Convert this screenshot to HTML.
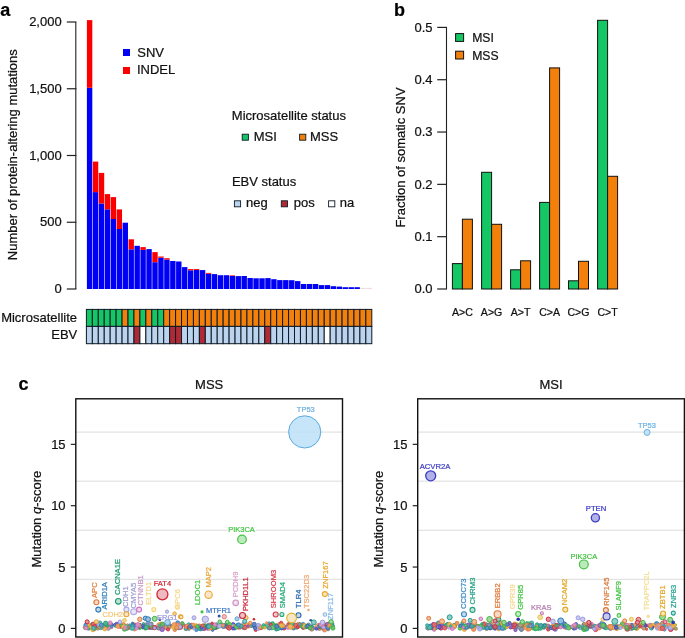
<!DOCTYPE html>
<html><head><meta charset="utf-8"><style>
html,body{margin:0;padding:0;background:#fff;}
body{width:685px;height:638px;overflow:hidden;}
svg{display:block;filter:blur(0.3px);font-family:"Liberation Sans", sans-serif;}
</style></head><body>
<svg width="685" height="638" viewBox="0 0 685 638">
<rect width="685" height="638" fill="#fff"/>
<text stroke="#000" stroke-width="0.22" x="0.3" y="15.6" font-size="18" font-weight="bold" fill="#000">a</text>
<line x1="75.8" y1="22.00" x2="75.8" y2="289.00" stroke="#222" stroke-width="1.1"/>
<line x1="66.8" y1="289.00" x2="76.35" y2="289.00" stroke="#222" stroke-width="1.2"/>
<text stroke="#111111" stroke-width="0.22" x="61.7" y="293.10" font-size="13" text-anchor="end" fill="#111111">0</text>
<line x1="66.8" y1="222.25" x2="76.35" y2="222.25" stroke="#222" stroke-width="1.2"/>
<text stroke="#111111" stroke-width="0.22" x="61.7" y="226.35" font-size="13" text-anchor="end" fill="#111111">500</text>
<line x1="66.8" y1="155.50" x2="76.35" y2="155.50" stroke="#222" stroke-width="1.2"/>
<text stroke="#111111" stroke-width="0.22" x="61.7" y="159.60" font-size="13" text-anchor="end" fill="#111111">1,000</text>
<line x1="66.8" y1="88.75" x2="76.35" y2="88.75" stroke="#222" stroke-width="1.2"/>
<text stroke="#111111" stroke-width="0.22" x="61.7" y="92.85" font-size="13" text-anchor="end" fill="#111111">1,500</text>
<line x1="66.8" y1="22.00" x2="76.35" y2="22.00" stroke="#222" stroke-width="1.2"/>
<text stroke="#111111" stroke-width="0.22" x="61.7" y="26.10" font-size="13" text-anchor="end" fill="#111111">2,000</text>
<text stroke="#111111" stroke-width="0.22" transform="translate(16.6,154.7) rotate(-90)" font-size="13" text-anchor="middle" fill="#111111">Number of protein-altering mutations</text>
<rect x="86.90" y="87.80" width="5.40" height="201.20" fill="#0000f5"/>
<rect x="86.90" y="20.10" width="5.40" height="67.70" fill="#fa0000"/>
<rect x="92.85" y="192.10" width="5.40" height="96.90" fill="#0000f5"/>
<rect x="92.85" y="161.60" width="5.40" height="30.50" fill="#fa0000"/>
<rect x="98.79" y="203.50" width="5.40" height="85.50" fill="#0000f5"/>
<rect x="98.79" y="172.90" width="5.40" height="30.60" fill="#fa0000"/>
<rect x="104.74" y="209.30" width="5.40" height="79.70" fill="#0000f5"/>
<rect x="104.74" y="194.10" width="5.40" height="15.20" fill="#fa0000"/>
<rect x="110.68" y="219.00" width="5.40" height="70.00" fill="#0000f5"/>
<rect x="110.68" y="197.10" width="5.40" height="21.90" fill="#fa0000"/>
<rect x="116.63" y="229.00" width="5.40" height="60.00" fill="#0000f5"/>
<rect x="116.63" y="209.40" width="5.40" height="19.60" fill="#fa0000"/>
<rect x="122.58" y="222.70" width="5.40" height="66.30" fill="#0000f5"/>
<rect x="128.52" y="249.30" width="5.40" height="39.70" fill="#0000f5"/>
<rect x="128.52" y="239.30" width="5.40" height="10.00" fill="#fa0000"/>
<rect x="134.47" y="245.80" width="5.40" height="43.20" fill="#0000f5"/>
<rect x="140.41" y="249.90" width="5.40" height="39.10" fill="#0000f5"/>
<rect x="140.41" y="247.10" width="5.40" height="2.80" fill="#fa0000"/>
<rect x="146.36" y="249.10" width="5.40" height="39.90" fill="#0000f5"/>
<rect x="152.30" y="262.20" width="5.40" height="26.80" fill="#0000f5"/>
<rect x="152.30" y="252.10" width="5.40" height="10.10" fill="#fa0000"/>
<rect x="158.25" y="257.70" width="5.40" height="31.30" fill="#0000f5"/>
<rect x="158.25" y="256.50" width="5.40" height="1.20" fill="#fa0000"/>
<rect x="164.20" y="259.60" width="5.40" height="29.40" fill="#0000f5"/>
<rect x="164.20" y="258.20" width="5.40" height="1.40" fill="#fa0000"/>
<rect x="170.14" y="261.00" width="5.40" height="28.00" fill="#0000f5"/>
<rect x="176.09" y="261.50" width="5.40" height="27.50" fill="#0000f5"/>
<rect x="182.03" y="267.10" width="5.40" height="21.90" fill="#0000f5"/>
<rect x="187.98" y="270.30" width="5.40" height="18.70" fill="#0000f5"/>
<rect x="187.98" y="269.10" width="5.40" height="1.20" fill="#fa0000"/>
<rect x="193.93" y="270.00" width="5.40" height="19.00" fill="#0000f5"/>
<rect x="193.93" y="269.10" width="5.40" height="0.90" fill="#fa0000"/>
<rect x="199.87" y="270.10" width="5.40" height="18.90" fill="#0000f5"/>
<rect x="205.82" y="273.80" width="5.40" height="15.20" fill="#0000f5"/>
<rect x="205.82" y="272.90" width="5.40" height="0.90" fill="#fa0000"/>
<rect x="211.76" y="274.10" width="5.40" height="14.90" fill="#0000f5"/>
<rect x="217.71" y="275.20" width="5.40" height="13.80" fill="#0000f5"/>
<rect x="223.65" y="275.20" width="5.40" height="13.80" fill="#0000f5"/>
<rect x="229.60" y="276.00" width="5.40" height="13.00" fill="#0000f5"/>
<rect x="229.60" y="275.40" width="5.40" height="0.60" fill="#fa0000"/>
<rect x="235.55" y="276.10" width="5.40" height="12.90" fill="#0000f5"/>
<rect x="241.49" y="276.00" width="5.40" height="13.00" fill="#0000f5"/>
<rect x="247.44" y="278.00" width="5.40" height="11.00" fill="#0000f5"/>
<rect x="253.38" y="278.30" width="5.40" height="10.70" fill="#0000f5"/>
<rect x="259.33" y="278.30" width="5.40" height="10.70" fill="#0000f5"/>
<rect x="265.27" y="278.10" width="5.40" height="10.90" fill="#0000f5"/>
<rect x="271.22" y="279.20" width="5.40" height="9.80" fill="#0000f5"/>
<rect x="277.17" y="280.10" width="5.40" height="8.90" fill="#0000f5"/>
<rect x="283.11" y="280.10" width="5.40" height="8.90" fill="#0000f5"/>
<rect x="289.06" y="280.20" width="5.40" height="8.80" fill="#0000f5"/>
<rect x="295.00" y="281.10" width="5.40" height="7.90" fill="#0000f5"/>
<rect x="300.95" y="284.00" width="5.40" height="5.00" fill="#0000f5"/>
<rect x="306.90" y="284.00" width="5.40" height="5.00" fill="#0000f5"/>
<rect x="312.84" y="284.00" width="5.40" height="5.00" fill="#0000f5"/>
<rect x="318.79" y="285.10" width="5.40" height="3.90" fill="#0000f5"/>
<rect x="324.73" y="285.10" width="5.40" height="3.90" fill="#0000f5"/>
<rect x="330.68" y="286.20" width="5.40" height="2.80" fill="#0000f5"/>
<rect x="336.62" y="286.60" width="5.40" height="2.40" fill="#0000f5"/>
<rect x="342.57" y="287.20" width="5.40" height="1.80" fill="#0000f5"/>
<rect x="348.52" y="287.20" width="5.40" height="1.80" fill="#0000f5"/>
<rect x="354.46" y="287.20" width="5.40" height="1.80" fill="#0000f5"/>
<rect x="360.41" y="287.9" width="5.40" height="0.8" fill="#e8c8d8"/>
<rect x="366.35" y="287.9" width="5.40" height="0.8" fill="#e8c8d8"/>
<rect x="123" y="49" width="7" height="7" fill="#0000f5"/>
<rect x="123" y="67" width="7" height="7" fill="#fa0000"/>
<text stroke="#111111" stroke-width="0.22" x="137.3" y="56.7" font-size="13" fill="#111111">SNV</text>
<text stroke="#111111" stroke-width="0.22" x="136.9" y="73.9" font-size="13" fill="#111111">INDEL</text>
<text stroke="#111111" stroke-width="0.22" x="231.8" y="119.9" font-size="13" fill="#111111">Microsatellite status</text>
<rect x="242.2" y="134.2" width="6.2" height="6" fill="#14c664" stroke="#0d1a26" stroke-width="0.9"/>
<text stroke="#111111" stroke-width="0.22" x="253.7" y="141.4" font-size="13" fill="#111111">MSI</text>
<rect x="299.6" y="134.2" width="6.2" height="6" fill="#f2800a" stroke="#0d1a26" stroke-width="0.9"/>
<text stroke="#111111" stroke-width="0.22" x="309.9" y="141.4" font-size="13" fill="#111111">MSS</text>
<text stroke="#111111" stroke-width="0.22" x="231.9" y="186.3" font-size="13" fill="#111111">EBV status</text>
<rect x="234.4" y="200.8" width="6.2" height="6" fill="#bcd3ee" stroke="#0d1a26" stroke-width="0.9"/>
<text stroke="#111111" stroke-width="0.22" x="246.0" y="206.9" font-size="13" fill="#111111">neg</text>
<rect x="281.3" y="200.8" width="6.2" height="6" fill="#b02a35" stroke="#0d1a26" stroke-width="0.9"/>
<text stroke="#111111" stroke-width="0.22" x="293.8" y="206.9" font-size="13" fill="#111111">pos</text>
<rect x="328.6" y="200.8" width="6.2" height="6" fill="#ffffff" stroke="#0d1a26" stroke-width="0.9"/>
<text stroke="#111111" stroke-width="0.22" x="339.8" y="206.9" font-size="13" fill="#111111">na</text>
<rect x="86.40" y="309.4" width="5.95" height="17" fill="#14c664" stroke="#0d1a26" stroke-width="1"/>
<rect x="86.40" y="326.4" width="5.95" height="17.3" fill="#bcd3ee" stroke="#0d1a26" stroke-width="1"/>
<rect x="92.35" y="309.4" width="5.95" height="17" fill="#14c664" stroke="#0d1a26" stroke-width="1"/>
<rect x="92.35" y="326.4" width="5.95" height="17.3" fill="#bcd3ee" stroke="#0d1a26" stroke-width="1"/>
<rect x="98.29" y="309.4" width="5.95" height="17" fill="#14c664" stroke="#0d1a26" stroke-width="1"/>
<rect x="98.29" y="326.4" width="5.95" height="17.3" fill="#bcd3ee" stroke="#0d1a26" stroke-width="1"/>
<rect x="104.24" y="309.4" width="5.95" height="17" fill="#14c664" stroke="#0d1a26" stroke-width="1"/>
<rect x="104.24" y="326.4" width="5.95" height="17.3" fill="#bcd3ee" stroke="#0d1a26" stroke-width="1"/>
<rect x="110.18" y="309.4" width="5.95" height="17" fill="#14c664" stroke="#0d1a26" stroke-width="1"/>
<rect x="110.18" y="326.4" width="5.95" height="17.3" fill="#bcd3ee" stroke="#0d1a26" stroke-width="1"/>
<rect x="116.13" y="309.4" width="5.95" height="17" fill="#14c664" stroke="#0d1a26" stroke-width="1"/>
<rect x="116.13" y="326.4" width="5.95" height="17.3" fill="#bcd3ee" stroke="#0d1a26" stroke-width="1"/>
<rect x="122.08" y="309.4" width="5.95" height="17" fill="#f2800a" stroke="#0d1a26" stroke-width="1"/>
<rect x="122.08" y="326.4" width="5.95" height="17.3" fill="#bcd3ee" stroke="#0d1a26" stroke-width="1"/>
<rect x="128.02" y="309.4" width="5.95" height="17" fill="#14c664" stroke="#0d1a26" stroke-width="1"/>
<rect x="128.02" y="326.4" width="5.95" height="17.3" fill="#bcd3ee" stroke="#0d1a26" stroke-width="1"/>
<rect x="133.97" y="309.4" width="5.95" height="17" fill="#f2800a" stroke="#0d1a26" stroke-width="1"/>
<rect x="133.97" y="326.4" width="5.95" height="17.3" fill="#b02a35" stroke="#0d1a26" stroke-width="1"/>
<rect x="139.91" y="309.4" width="5.95" height="17" fill="#14c664" stroke="#0d1a26" stroke-width="1"/>
<rect x="139.91" y="326.4" width="5.95" height="17.3" fill="#ffffff" stroke="#0d1a26" stroke-width="1"/>
<rect x="145.86" y="309.4" width="5.95" height="17" fill="#f2800a" stroke="#0d1a26" stroke-width="1"/>
<rect x="145.86" y="326.4" width="5.95" height="17.3" fill="#bcd3ee" stroke="#0d1a26" stroke-width="1"/>
<rect x="151.80" y="309.4" width="5.95" height="17" fill="#14c664" stroke="#0d1a26" stroke-width="1"/>
<rect x="151.80" y="326.4" width="5.95" height="17.3" fill="#bcd3ee" stroke="#0d1a26" stroke-width="1"/>
<rect x="157.75" y="309.4" width="5.95" height="17" fill="#14c664" stroke="#0d1a26" stroke-width="1"/>
<rect x="157.75" y="326.4" width="5.95" height="17.3" fill="#bcd3ee" stroke="#0d1a26" stroke-width="1"/>
<rect x="163.70" y="309.4" width="5.95" height="17" fill="#f2800a" stroke="#0d1a26" stroke-width="1"/>
<rect x="163.70" y="326.4" width="5.95" height="17.3" fill="#bcd3ee" stroke="#0d1a26" stroke-width="1"/>
<rect x="169.64" y="309.4" width="5.95" height="17" fill="#f2800a" stroke="#0d1a26" stroke-width="1"/>
<rect x="169.64" y="326.4" width="5.95" height="17.3" fill="#b02a35" stroke="#0d1a26" stroke-width="1"/>
<rect x="175.59" y="309.4" width="5.95" height="17" fill="#f2800a" stroke="#0d1a26" stroke-width="1"/>
<rect x="175.59" y="326.4" width="5.95" height="17.3" fill="#b02a35" stroke="#0d1a26" stroke-width="1"/>
<rect x="181.53" y="309.4" width="5.95" height="17" fill="#f2800a" stroke="#0d1a26" stroke-width="1"/>
<rect x="181.53" y="326.4" width="5.95" height="17.3" fill="#bcd3ee" stroke="#0d1a26" stroke-width="1"/>
<rect x="187.48" y="309.4" width="5.95" height="17" fill="#f2800a" stroke="#0d1a26" stroke-width="1"/>
<rect x="187.48" y="326.4" width="5.95" height="17.3" fill="#bcd3ee" stroke="#0d1a26" stroke-width="1"/>
<rect x="193.43" y="309.4" width="5.95" height="17" fill="#f2800a" stroke="#0d1a26" stroke-width="1"/>
<rect x="193.43" y="326.4" width="5.95" height="17.3" fill="#bcd3ee" stroke="#0d1a26" stroke-width="1"/>
<rect x="199.37" y="309.4" width="5.95" height="17" fill="#f2800a" stroke="#0d1a26" stroke-width="1"/>
<rect x="199.37" y="326.4" width="5.95" height="17.3" fill="#b02a35" stroke="#0d1a26" stroke-width="1"/>
<rect x="205.32" y="309.4" width="5.95" height="17" fill="#f2800a" stroke="#0d1a26" stroke-width="1"/>
<rect x="205.32" y="326.4" width="5.95" height="17.3" fill="#bcd3ee" stroke="#0d1a26" stroke-width="1"/>
<rect x="211.26" y="309.4" width="5.95" height="17" fill="#f2800a" stroke="#0d1a26" stroke-width="1"/>
<rect x="211.26" y="326.4" width="5.95" height="17.3" fill="#bcd3ee" stroke="#0d1a26" stroke-width="1"/>
<rect x="217.21" y="309.4" width="5.95" height="17" fill="#f2800a" stroke="#0d1a26" stroke-width="1"/>
<rect x="217.21" y="326.4" width="5.95" height="17.3" fill="#bcd3ee" stroke="#0d1a26" stroke-width="1"/>
<rect x="223.15" y="309.4" width="5.95" height="17" fill="#f2800a" stroke="#0d1a26" stroke-width="1"/>
<rect x="223.15" y="326.4" width="5.95" height="17.3" fill="#bcd3ee" stroke="#0d1a26" stroke-width="1"/>
<rect x="229.10" y="309.4" width="5.95" height="17" fill="#f2800a" stroke="#0d1a26" stroke-width="1"/>
<rect x="229.10" y="326.4" width="5.95" height="17.3" fill="#bcd3ee" stroke="#0d1a26" stroke-width="1"/>
<rect x="235.05" y="309.4" width="5.95" height="17" fill="#f2800a" stroke="#0d1a26" stroke-width="1"/>
<rect x="235.05" y="326.4" width="5.95" height="17.3" fill="#bcd3ee" stroke="#0d1a26" stroke-width="1"/>
<rect x="240.99" y="309.4" width="5.95" height="17" fill="#f2800a" stroke="#0d1a26" stroke-width="1"/>
<rect x="240.99" y="326.4" width="5.95" height="17.3" fill="#bcd3ee" stroke="#0d1a26" stroke-width="1"/>
<rect x="246.94" y="309.4" width="5.95" height="17" fill="#f2800a" stroke="#0d1a26" stroke-width="1"/>
<rect x="246.94" y="326.4" width="5.95" height="17.3" fill="#bcd3ee" stroke="#0d1a26" stroke-width="1"/>
<rect x="252.88" y="309.4" width="5.95" height="17" fill="#f2800a" stroke="#0d1a26" stroke-width="1"/>
<rect x="252.88" y="326.4" width="5.95" height="17.3" fill="#bcd3ee" stroke="#0d1a26" stroke-width="1"/>
<rect x="258.83" y="309.4" width="5.95" height="17" fill="#f2800a" stroke="#0d1a26" stroke-width="1"/>
<rect x="258.83" y="326.4" width="5.95" height="17.3" fill="#bcd3ee" stroke="#0d1a26" stroke-width="1"/>
<rect x="264.77" y="309.4" width="5.95" height="17" fill="#f2800a" stroke="#0d1a26" stroke-width="1"/>
<rect x="264.77" y="326.4" width="5.95" height="17.3" fill="#b02a35" stroke="#0d1a26" stroke-width="1"/>
<rect x="270.72" y="309.4" width="5.95" height="17" fill="#f2800a" stroke="#0d1a26" stroke-width="1"/>
<rect x="270.72" y="326.4" width="5.95" height="17.3" fill="#bcd3ee" stroke="#0d1a26" stroke-width="1"/>
<rect x="276.67" y="309.4" width="5.95" height="17" fill="#f2800a" stroke="#0d1a26" stroke-width="1"/>
<rect x="276.67" y="326.4" width="5.95" height="17.3" fill="#bcd3ee" stroke="#0d1a26" stroke-width="1"/>
<rect x="282.61" y="309.4" width="5.95" height="17" fill="#f2800a" stroke="#0d1a26" stroke-width="1"/>
<rect x="282.61" y="326.4" width="5.95" height="17.3" fill="#bcd3ee" stroke="#0d1a26" stroke-width="1"/>
<rect x="288.56" y="309.4" width="5.95" height="17" fill="#f2800a" stroke="#0d1a26" stroke-width="1"/>
<rect x="288.56" y="326.4" width="5.95" height="17.3" fill="#bcd3ee" stroke="#0d1a26" stroke-width="1"/>
<rect x="294.50" y="309.4" width="5.95" height="17" fill="#f2800a" stroke="#0d1a26" stroke-width="1"/>
<rect x="294.50" y="326.4" width="5.95" height="17.3" fill="#bcd3ee" stroke="#0d1a26" stroke-width="1"/>
<rect x="300.45" y="309.4" width="5.95" height="17" fill="#f2800a" stroke="#0d1a26" stroke-width="1"/>
<rect x="300.45" y="326.4" width="5.95" height="17.3" fill="#bcd3ee" stroke="#0d1a26" stroke-width="1"/>
<rect x="306.40" y="309.4" width="5.95" height="17" fill="#f2800a" stroke="#0d1a26" stroke-width="1"/>
<rect x="306.40" y="326.4" width="5.95" height="17.3" fill="#bcd3ee" stroke="#0d1a26" stroke-width="1"/>
<rect x="312.34" y="309.4" width="5.95" height="17" fill="#f2800a" stroke="#0d1a26" stroke-width="1"/>
<rect x="312.34" y="326.4" width="5.95" height="17.3" fill="#bcd3ee" stroke="#0d1a26" stroke-width="1"/>
<rect x="318.29" y="309.4" width="5.95" height="17" fill="#f2800a" stroke="#0d1a26" stroke-width="1"/>
<rect x="318.29" y="326.4" width="5.95" height="17.3" fill="#bcd3ee" stroke="#0d1a26" stroke-width="1"/>
<rect x="324.23" y="309.4" width="5.95" height="17" fill="#f2800a" stroke="#0d1a26" stroke-width="1"/>
<rect x="324.23" y="326.4" width="5.95" height="17.3" fill="#ffffff" stroke="#0d1a26" stroke-width="1"/>
<rect x="330.18" y="309.4" width="5.95" height="17" fill="#f2800a" stroke="#0d1a26" stroke-width="1"/>
<rect x="330.18" y="326.4" width="5.95" height="17.3" fill="#bcd3ee" stroke="#0d1a26" stroke-width="1"/>
<rect x="336.12" y="309.4" width="5.95" height="17" fill="#f2800a" stroke="#0d1a26" stroke-width="1"/>
<rect x="336.12" y="326.4" width="5.95" height="17.3" fill="#bcd3ee" stroke="#0d1a26" stroke-width="1"/>
<rect x="342.07" y="309.4" width="5.95" height="17" fill="#f2800a" stroke="#0d1a26" stroke-width="1"/>
<rect x="342.07" y="326.4" width="5.95" height="17.3" fill="#bcd3ee" stroke="#0d1a26" stroke-width="1"/>
<rect x="348.02" y="309.4" width="5.95" height="17" fill="#f2800a" stroke="#0d1a26" stroke-width="1"/>
<rect x="348.02" y="326.4" width="5.95" height="17.3" fill="#bcd3ee" stroke="#0d1a26" stroke-width="1"/>
<rect x="353.96" y="309.4" width="5.95" height="17" fill="#f2800a" stroke="#0d1a26" stroke-width="1"/>
<rect x="353.96" y="326.4" width="5.95" height="17.3" fill="#bcd3ee" stroke="#0d1a26" stroke-width="1"/>
<rect x="359.91" y="309.4" width="5.95" height="17" fill="#f2800a" stroke="#0d1a26" stroke-width="1"/>
<rect x="359.91" y="326.4" width="5.95" height="17.3" fill="#bcd3ee" stroke="#0d1a26" stroke-width="1"/>
<rect x="365.85" y="309.4" width="5.95" height="17" fill="#f2800a" stroke="#0d1a26" stroke-width="1"/>
<rect x="365.85" y="326.4" width="5.95" height="17.3" fill="#bcd3ee" stroke="#0d1a26" stroke-width="1"/>
<text stroke="#111111" stroke-width="0.22" x="77" y="321.8" font-size="13" text-anchor="end" fill="#111111">Microsatellite</text>
<text stroke="#111111" stroke-width="0.22" x="77.3" y="339.3" font-size="13" text-anchor="end" fill="#111111">EBV</text>
<text stroke="#000" stroke-width="0.22" x="393.9" y="15.6" font-size="18" font-weight="bold" fill="#000">b</text>
<line x1="446.5" y1="27.40" x2="446.5" y2="289.00" stroke="#222" stroke-width="1.1"/>
<line x1="437.2" y1="289.00" x2="447.0" y2="289.00" stroke="#222" stroke-width="1.2"/>
<text stroke="#111111" stroke-width="0.22" x="432.6" y="293.20" font-size="13" text-anchor="end" fill="#111111">0.0</text>
<line x1="437.2" y1="236.68" x2="447.0" y2="236.68" stroke="#222" stroke-width="1.2"/>
<text stroke="#111111" stroke-width="0.22" x="432.6" y="240.88" font-size="13" text-anchor="end" fill="#111111">0.1</text>
<line x1="437.2" y1="184.36" x2="447.0" y2="184.36" stroke="#222" stroke-width="1.2"/>
<text stroke="#111111" stroke-width="0.22" x="432.6" y="188.56" font-size="13" text-anchor="end" fill="#111111">0.2</text>
<line x1="437.2" y1="132.04" x2="447.0" y2="132.04" stroke="#222" stroke-width="1.2"/>
<text stroke="#111111" stroke-width="0.22" x="432.6" y="136.24" font-size="13" text-anchor="end" fill="#111111">0.3</text>
<line x1="437.2" y1="79.72" x2="447.0" y2="79.72" stroke="#222" stroke-width="1.2"/>
<text stroke="#111111" stroke-width="0.22" x="432.6" y="83.92" font-size="13" text-anchor="end" fill="#111111">0.4</text>
<line x1="437.2" y1="27.40" x2="447.0" y2="27.40" stroke="#222" stroke-width="1.2"/>
<text stroke="#111111" stroke-width="0.22" x="432.6" y="31.60" font-size="13" text-anchor="end" fill="#111111">0.5</text>
<text stroke="#111111" stroke-width="0.22" transform="translate(404.6,157.5) rotate(-90)" font-size="13" text-anchor="middle" fill="#111111">Fraction of somatic SNV</text>
<rect x="452.40" y="263.60" width="10" height="25.40" fill="#14c664" stroke="#111" stroke-width="1"/>
<rect x="462.40" y="219.20" width="10" height="69.80" fill="#f2800a" stroke="#111" stroke-width="1"/>
<text stroke="#111111" stroke-width="0.22" x="462.40" y="316.1" font-size="10.6" text-anchor="middle" fill="#111111">A&gt;C</text>
<rect x="481.60" y="172.30" width="10" height="116.70" fill="#14c664" stroke="#111" stroke-width="1"/>
<rect x="491.60" y="224.30" width="10" height="64.70" fill="#f2800a" stroke="#111" stroke-width="1"/>
<text stroke="#111111" stroke-width="0.22" x="491.60" y="316.1" font-size="10.6" text-anchor="middle" fill="#111111">A&gt;G</text>
<rect x="510.60" y="269.80" width="10" height="19.20" fill="#14c664" stroke="#111" stroke-width="1"/>
<rect x="520.60" y="260.80" width="10" height="28.20" fill="#f2800a" stroke="#111" stroke-width="1"/>
<text stroke="#111111" stroke-width="0.22" x="520.60" y="316.1" font-size="10.6" text-anchor="middle" fill="#111111">A&gt;T</text>
<rect x="539.60" y="202.40" width="10" height="86.60" fill="#14c664" stroke="#111" stroke-width="1"/>
<rect x="549.60" y="67.90" width="10" height="221.10" fill="#f2800a" stroke="#111" stroke-width="1"/>
<text stroke="#111111" stroke-width="0.22" x="549.60" y="316.1" font-size="10.6" text-anchor="middle" fill="#111111">C&gt;A</text>
<rect x="568.50" y="280.80" width="10" height="8.20" fill="#14c664" stroke="#111" stroke-width="1"/>
<rect x="578.50" y="261.30" width="10" height="27.70" fill="#f2800a" stroke="#111" stroke-width="1"/>
<text stroke="#111111" stroke-width="0.22" x="578.50" y="316.1" font-size="10.6" text-anchor="middle" fill="#111111">C&gt;G</text>
<rect x="597.60" y="20.30" width="10" height="268.70" fill="#14c664" stroke="#111" stroke-width="1"/>
<rect x="607.60" y="176.30" width="10" height="112.70" fill="#f2800a" stroke="#111" stroke-width="1"/>
<text stroke="#111111" stroke-width="0.22" x="607.60" y="316.1" font-size="10.6" text-anchor="middle" fill="#111111">C&gt;T</text>
<rect x="455.6" y="33.6" width="8" height="7.8" fill="#14c664" stroke="#111" stroke-width="1"/>
<rect x="455.6" y="51.2" width="8" height="7.8" fill="#f2800a" stroke="#111" stroke-width="1"/>
<text stroke="#111111" stroke-width="0.22" x="472.2" y="42.4" font-size="12.2" fill="#111111">MSI</text>
<text stroke="#111111" stroke-width="0.22" x="472.2" y="59.8" font-size="12.2" fill="#111111">MSS</text>
<text stroke="#000" stroke-width="0.22" x="18.6" y="389.7" font-size="18" font-weight="bold" fill="#000">c</text>
<line x1="75.8" y1="579.32" x2="342.5" y2="579.32" stroke="#d8d8d8" stroke-width="0.9"/>
<line x1="75.8" y1="530.24" x2="342.5" y2="530.24" stroke="#d8d8d8" stroke-width="0.9"/>
<line x1="75.8" y1="481.16" x2="342.5" y2="481.16" stroke="#d8d8d8" stroke-width="0.9"/>
<line x1="75.8" y1="432.08" x2="342.5" y2="432.08" stroke="#d8d8d8" stroke-width="0.9"/>
<line x1="70.8" y1="628.40" x2="75.8" y2="628.40" stroke="#222" stroke-width="1.2"/>
<text stroke="#111111" stroke-width="0.22" x="65.6" y="633.00" font-size="13" text-anchor="end" fill="#111111">0</text>
<line x1="70.8" y1="567.05" x2="75.8" y2="567.05" stroke="#222" stroke-width="1.2"/>
<text stroke="#111111" stroke-width="0.22" x="65.6" y="571.65" font-size="13" text-anchor="end" fill="#111111">5</text>
<line x1="70.8" y1="505.70" x2="75.8" y2="505.70" stroke="#222" stroke-width="1.2"/>
<text stroke="#111111" stroke-width="0.22" x="65.6" y="510.30" font-size="13" text-anchor="end" fill="#111111">10</text>
<line x1="70.8" y1="444.35" x2="75.8" y2="444.35" stroke="#222" stroke-width="1.2"/>
<text stroke="#111111" stroke-width="0.22" x="65.6" y="448.95" font-size="13" text-anchor="end" fill="#111111">15</text>
<text stroke="#111111" stroke-width="0.22" x="209.2" y="388.8" font-size="13" text-anchor="middle" fill="#111111">MSS</text>
<text stroke="#111111" stroke-width="0.22" transform="translate(41.0,519.1) rotate(-90)" font-size="13" text-anchor="middle" fill="#111111">Mutation <tspan font-style="italic">q</tspan>-score</text>
<circle cx="165.6" cy="627.7" r="1.2" fill="#53a7a7" stroke="#1a8a8a" stroke-width="0.8"/>
<circle cx="108.4" cy="628.2" r="2.0" fill="#59b7ab" stroke="#22a090" stroke-width="0.8"/>
<circle cx="311.5" cy="626.5" r="1.8" fill="#609ccb" stroke="#2b7bba" stroke-width="0.8"/>
<circle cx="144.9" cy="627.0" r="2.0" fill="#8799ab" stroke="#607890" stroke-width="0.8"/>
<circle cx="99.7" cy="623.1" r="2.2" fill="#59b7ab" stroke="#22a090" stroke-width="0.8"/>
<circle cx="228.7" cy="624.9" r="1.8" fill="#59b7ab" stroke="#22a090" stroke-width="0.8"/>
<circle cx="328.1" cy="629.2" r="1.6" fill="#8799ab" stroke="#607890" stroke-width="0.8"/>
<circle cx="120.9" cy="627.3" r="1.2" fill="#f39f6f" stroke="#f08040" stroke-width="0.8"/>
<circle cx="224.5" cy="626.1" r="2.0" fill="#d55d6c" stroke="#c8283c" stroke-width="0.8"/>
<circle cx="177.7" cy="625.8" r="2.0" fill="#609ccb" stroke="#2b7bba" stroke-width="0.8"/>
<circle cx="225.5" cy="625.1" r="2.0" fill="#8799ab" stroke="#607890" stroke-width="0.8"/>
<circle cx="278.5" cy="625.2" r="1.8" fill="#db93c3" stroke="#d070b0" stroke-width="0.8"/>
<circle cx="175.0" cy="626.4" r="1.4" fill="#609ccb" stroke="#2b7bba" stroke-width="0.8"/>
<circle cx="228.0" cy="627.3" r="2.0" fill="#6b6bcf" stroke="#3a3ac0" stroke-width="0.8"/>
<circle cx="302.9" cy="626.2" r="1.2" fill="#6387c3" stroke="#3060b0" stroke-width="0.8"/>
<circle cx="212.5" cy="625.2" r="1.4" fill="#9b77c3" stroke="#7a4ab0" stroke-width="0.8"/>
<circle cx="122.8" cy="626.0" r="2.2" fill="#609ccb" stroke="#2b7bba" stroke-width="0.8"/>
<circle cx="275.4" cy="626.4" r="2.0" fill="#9b77c3" stroke="#7a4ab0" stroke-width="0.8"/>
<circle cx="169.7" cy="625.4" r="1.8" fill="#609ccb" stroke="#2b7bba" stroke-width="0.8"/>
<circle cx="294.2" cy="627.8" r="1.6" fill="#6b6bcf" stroke="#3a3ac0" stroke-width="0.8"/>
<circle cx="258.6" cy="628.6" r="1.6" fill="#db93c3" stroke="#d070b0" stroke-width="0.8"/>
<circle cx="155.9" cy="627.4" r="1.8" fill="#b3b3e7" stroke="#9a9ae0" stroke-width="0.8"/>
<circle cx="90.6" cy="625.5" r="1.2" fill="#6b6bcf" stroke="#3a3ac0" stroke-width="0.8"/>
<circle cx="99.7" cy="626.6" r="1.6" fill="#6cc66c" stroke="#3cb43c" stroke-width="0.8"/>
<circle cx="268.9" cy="623.7" r="1.8" fill="#609ccb" stroke="#2b7bba" stroke-width="0.8"/>
<circle cx="126.4" cy="628.4" r="1.8" fill="#53a7a7" stroke="#1a8a8a" stroke-width="0.8"/>
<circle cx="154.2" cy="627.4" r="2.0" fill="#e79c6a" stroke="#e07b39" stroke-width="0.8"/>
<circle cx="260.9" cy="627.6" r="1.6" fill="#edb75d" stroke="#e8a028" stroke-width="0.8"/>
<circle cx="323.5" cy="626.9" r="1.4" fill="#db6f6f" stroke="#d04040" stroke-width="0.8"/>
<circle cx="88.0" cy="627.2" r="2.0" fill="#6fb36f" stroke="#409a40" stroke-width="0.8"/>
<circle cx="150.4" cy="628.0" r="1.6" fill="#9b77c3" stroke="#7a4ab0" stroke-width="0.8"/>
<circle cx="322.3" cy="626.4" r="2.2" fill="#b79f7b" stroke="#a08050" stroke-width="0.8"/>
<circle cx="321.6" cy="625.0" r="1.8" fill="#53a7a7" stroke="#1a8a8a" stroke-width="0.8"/>
<circle cx="182.7" cy="624.4" r="1.8" fill="#edb75d" stroke="#e8a028" stroke-width="0.8"/>
<circle cx="110.8" cy="626.0" r="1.2" fill="#d55d6c" stroke="#c8283c" stroke-width="0.8"/>
<circle cx="194.7" cy="626.0" r="1.2" fill="#9b77c3" stroke="#7a4ab0" stroke-width="0.8"/>
<circle cx="234.6" cy="628.0" r="2.0" fill="#6387c3" stroke="#3060b0" stroke-width="0.8"/>
<circle cx="321.3" cy="627.6" r="2.0" fill="#53b390" stroke="#1a9a6c" stroke-width="0.8"/>
<circle cx="102.5" cy="626.8" r="2.2" fill="#e79c6a" stroke="#e07b39" stroke-width="0.8"/>
<circle cx="322.9" cy="627.8" r="2.0" fill="#b3b3e7" stroke="#9a9ae0" stroke-width="0.8"/>
<circle cx="203.1" cy="627.7" r="1.8" fill="#6b6bcf" stroke="#3a3ac0" stroke-width="0.8"/>
<circle cx="205.5" cy="627.6" r="1.2" fill="#6cc66c" stroke="#3cb43c" stroke-width="0.8"/>
<circle cx="110.4" cy="625.8" r="2.2" fill="#6fb36f" stroke="#409a40" stroke-width="0.8"/>
<circle cx="213.6" cy="627.4" r="1.4" fill="#b79f7b" stroke="#a08050" stroke-width="0.8"/>
<circle cx="175.1" cy="625.2" r="2.0" fill="#f39f6f" stroke="#f08040" stroke-width="0.8"/>
<circle cx="328.6" cy="623.3" r="1.2" fill="#e79c6a" stroke="#e07b39" stroke-width="0.8"/>
<circle cx="214.1" cy="627.6" r="1.4" fill="#53a7a7" stroke="#1a8a8a" stroke-width="0.8"/>
<circle cx="219.9" cy="625.6" r="2.0" fill="#9b77c3" stroke="#7a4ab0" stroke-width="0.8"/>
<circle cx="243.5" cy="624.4" r="1.4" fill="#db6f6f" stroke="#d04040" stroke-width="0.8"/>
<circle cx="288.8" cy="624.7" r="2.2" fill="#db6f6f" stroke="#d04040" stroke-width="0.8"/>
<circle cx="134.8" cy="624.0" r="1.2" fill="#e79c6a" stroke="#e07b39" stroke-width="0.8"/>
<circle cx="202.6" cy="626.5" r="1.4" fill="#b3b3e7" stroke="#9a9ae0" stroke-width="0.8"/>
<circle cx="196.4" cy="630.0" r="1.6" fill="#609ccb" stroke="#2b7bba" stroke-width="0.8"/>
<circle cx="139.9" cy="624.7" r="1.4" fill="#6b6bcf" stroke="#3a3ac0" stroke-width="0.8"/>
<circle cx="134.0" cy="627.0" r="2.0" fill="#53b390" stroke="#1a9a6c" stroke-width="0.8"/>
<circle cx="204.4" cy="628.4" r="2.2" fill="#b3b3e7" stroke="#9a9ae0" stroke-width="0.8"/>
<circle cx="284.1" cy="628.3" r="1.8" fill="#d55d6c" stroke="#c8283c" stroke-width="0.8"/>
<circle cx="204.0" cy="627.5" r="1.4" fill="#8799ab" stroke="#607890" stroke-width="0.8"/>
<circle cx="281.5" cy="625.1" r="2.2" fill="#edb75d" stroke="#e8a028" stroke-width="0.8"/>
<circle cx="200.3" cy="628.7" r="2.2" fill="#609ccb" stroke="#2b7bba" stroke-width="0.8"/>
<circle cx="265.5" cy="626.8" r="1.4" fill="#db93c3" stroke="#d070b0" stroke-width="0.8"/>
<circle cx="285.8" cy="627.1" r="1.4" fill="#6b6bcf" stroke="#3a3ac0" stroke-width="0.8"/>
<circle cx="248.7" cy="625.3" r="1.4" fill="#53b390" stroke="#1a9a6c" stroke-width="0.8"/>
<circle cx="88.5" cy="627.9" r="2.2" fill="#6387c3" stroke="#3060b0" stroke-width="0.8"/>
<circle cx="216.1" cy="627.9" r="1.4" fill="#d55d6c" stroke="#c8283c" stroke-width="0.8"/>
<circle cx="92.0" cy="625.8" r="1.4" fill="#f39f6f" stroke="#f08040" stroke-width="0.8"/>
<circle cx="209.8" cy="626.5" r="2.0" fill="#8799ab" stroke="#607890" stroke-width="0.8"/>
<circle cx="292.7" cy="625.1" r="1.2" fill="#b3b3e7" stroke="#9a9ae0" stroke-width="0.8"/>
<circle cx="308.5" cy="625.0" r="2.0" fill="#8799ab" stroke="#607890" stroke-width="0.8"/>
<circle cx="291.0" cy="624.1" r="2.0" fill="#6cc66c" stroke="#3cb43c" stroke-width="0.8"/>
<circle cx="217.4" cy="626.1" r="1.8" fill="#6fb36f" stroke="#409a40" stroke-width="0.8"/>
<circle cx="236.5" cy="626.4" r="1.4" fill="#6fb36f" stroke="#409a40" stroke-width="0.8"/>
<circle cx="120.2" cy="625.8" r="1.2" fill="#9b77c3" stroke="#7a4ab0" stroke-width="0.8"/>
<circle cx="254.9" cy="625.9" r="2.0" fill="#53a7a7" stroke="#1a8a8a" stroke-width="0.8"/>
<circle cx="205.1" cy="626.9" r="1.2" fill="#db6f6f" stroke="#d04040" stroke-width="0.8"/>
<circle cx="132.6" cy="623.3" r="1.2" fill="#6387c3" stroke="#3060b0" stroke-width="0.8"/>
<circle cx="211.4" cy="624.1" r="1.2" fill="#db93c3" stroke="#d070b0" stroke-width="0.8"/>
<circle cx="166.1" cy="625.4" r="2.0" fill="#b79f7b" stroke="#a08050" stroke-width="0.8"/>
<circle cx="134.7" cy="626.1" r="1.8" fill="#b79f7b" stroke="#a08050" stroke-width="0.8"/>
<circle cx="319.4" cy="628.2" r="2.2" fill="#b79f7b" stroke="#a08050" stroke-width="0.8"/>
<circle cx="303.3" cy="627.5" r="2.0" fill="#d55d6c" stroke="#c8283c" stroke-width="0.8"/>
<circle cx="294.2" cy="626.0" r="1.4" fill="#8799ab" stroke="#607890" stroke-width="0.8"/>
<circle cx="115.3" cy="625.9" r="1.4" fill="#8799ab" stroke="#607890" stroke-width="0.8"/>
<circle cx="103.2" cy="626.6" r="2.2" fill="#f39f6f" stroke="#f08040" stroke-width="0.8"/>
<circle cx="280.2" cy="627.1" r="2.2" fill="#b3b3e7" stroke="#9a9ae0" stroke-width="0.8"/>
<circle cx="120.6" cy="625.9" r="1.4" fill="#db93c3" stroke="#d070b0" stroke-width="0.8"/>
<circle cx="139.7" cy="627.8" r="1.8" fill="#6fb36f" stroke="#409a40" stroke-width="0.8"/>
<circle cx="331.5" cy="626.0" r="1.4" fill="#6fb36f" stroke="#409a40" stroke-width="0.8"/>
<circle cx="260.9" cy="627.9" r="1.8" fill="#d55d6c" stroke="#c8283c" stroke-width="0.8"/>
<circle cx="173.8" cy="626.3" r="1.2" fill="#b3b3e7" stroke="#9a9ae0" stroke-width="0.8"/>
<circle cx="89.9" cy="624.9" r="1.2" fill="#edb75d" stroke="#e8a028" stroke-width="0.8"/>
<circle cx="167.5" cy="625.9" r="2.0" fill="#f39f6f" stroke="#f08040" stroke-width="0.8"/>
<circle cx="212.6" cy="630.0" r="1.4" fill="#6387c3" stroke="#3060b0" stroke-width="0.8"/>
<circle cx="105.9" cy="628.1" r="1.6" fill="#59b7ab" stroke="#22a090" stroke-width="0.8"/>
<circle cx="310.6" cy="627.5" r="1.8" fill="#e79c6a" stroke="#e07b39" stroke-width="0.8"/>
<circle cx="186.1" cy="628.7" r="2.0" fill="#b79f7b" stroke="#a08050" stroke-width="0.8"/>
<circle cx="227.1" cy="626.2" r="1.2" fill="#6fb36f" stroke="#409a40" stroke-width="0.8"/>
<circle cx="190.9" cy="625.8" r="1.2" fill="#e79c6a" stroke="#e07b39" stroke-width="0.8"/>
<circle cx="318.6" cy="624.6" r="1.2" fill="#db6f6f" stroke="#d04040" stroke-width="0.8"/>
<circle cx="101.6" cy="624.4" r="1.2" fill="#db93c3" stroke="#d070b0" stroke-width="0.8"/>
<circle cx="87.9" cy="628.0" r="1.6" fill="#6cc66c" stroke="#3cb43c" stroke-width="0.8"/>
<circle cx="95.8" cy="626.3" r="2.2" fill="#db6f6f" stroke="#d04040" stroke-width="0.8"/>
<circle cx="318.6" cy="627.5" r="1.4" fill="#d55d6c" stroke="#c8283c" stroke-width="0.8"/>
<circle cx="317.1" cy="626.2" r="2.2" fill="#f39f6f" stroke="#f08040" stroke-width="0.8"/>
<circle cx="217.2" cy="626.8" r="2.2" fill="#6fb36f" stroke="#409a40" stroke-width="0.8"/>
<circle cx="152.4" cy="628.0" r="1.2" fill="#e79c6a" stroke="#e07b39" stroke-width="0.8"/>
<circle cx="94.2" cy="628.2" r="1.4" fill="#b79f7b" stroke="#a08050" stroke-width="0.8"/>
<circle cx="203.2" cy="626.6" r="1.8" fill="#6387c3" stroke="#3060b0" stroke-width="0.8"/>
<circle cx="248.9" cy="625.1" r="2.0" fill="#edb75d" stroke="#e8a028" stroke-width="0.8"/>
<circle cx="326.6" cy="624.6" r="1.6" fill="#d55d6c" stroke="#c8283c" stroke-width="0.8"/>
<circle cx="329.6" cy="624.8" r="2.2" fill="#6cc66c" stroke="#3cb43c" stroke-width="0.8"/>
<circle cx="185.8" cy="628.8" r="1.6" fill="#59b7ab" stroke="#22a090" stroke-width="0.8"/>
<circle cx="293.4" cy="628.5" r="1.6" fill="#8799ab" stroke="#607890" stroke-width="0.8"/>
<circle cx="125.6" cy="626.6" r="1.2" fill="#edb75d" stroke="#e8a028" stroke-width="0.8"/>
<circle cx="301.8" cy="625.8" r="1.4" fill="#f39f6f" stroke="#f08040" stroke-width="0.8"/>
<circle cx="96.3" cy="625.3" r="1.4" fill="#6fb36f" stroke="#409a40" stroke-width="0.8"/>
<circle cx="152.0" cy="627.8" r="1.6" fill="#53a7a7" stroke="#1a8a8a" stroke-width="0.8"/>
<circle cx="165.6" cy="626.4" r="1.2" fill="#f39f6f" stroke="#f08040" stroke-width="0.8"/>
<circle cx="139.2" cy="627.0" r="1.2" fill="#6b6bcf" stroke="#3a3ac0" stroke-width="0.8"/>
<circle cx="154.5" cy="627.6" r="2.2" fill="#d55d6c" stroke="#c8283c" stroke-width="0.8"/>
<circle cx="146.8" cy="626.5" r="1.2" fill="#6cc66c" stroke="#3cb43c" stroke-width="0.8"/>
<circle cx="184.5" cy="625.8" r="1.2" fill="#edb75d" stroke="#e8a028" stroke-width="0.8"/>
<circle cx="90.6" cy="626.0" r="2.0" fill="#b79f7b" stroke="#a08050" stroke-width="0.8"/>
<circle cx="297.5" cy="627.4" r="1.4" fill="#edb75d" stroke="#e8a028" stroke-width="0.8"/>
<circle cx="275.3" cy="626.1" r="1.6" fill="#6cc66c" stroke="#3cb43c" stroke-width="0.8"/>
<circle cx="95.9" cy="624.7" r="2.2" fill="#b79f7b" stroke="#a08050" stroke-width="0.8"/>
<circle cx="241.2" cy="626.1" r="1.4" fill="#b79f7b" stroke="#a08050" stroke-width="0.8"/>
<circle cx="272.5" cy="623.7" r="2.0" fill="#53b390" stroke="#1a9a6c" stroke-width="0.8"/>
<circle cx="290.8" cy="623.7" r="2.2" fill="#db6f6f" stroke="#d04040" stroke-width="0.8"/>
<circle cx="106.2" cy="624.8" r="1.2" fill="#6cc66c" stroke="#3cb43c" stroke-width="0.8"/>
<circle cx="243.6" cy="627.8" r="1.8" fill="#53a7a7" stroke="#1a8a8a" stroke-width="0.8"/>
<circle cx="97.6" cy="626.0" r="1.2" fill="#53a7a7" stroke="#1a8a8a" stroke-width="0.8"/>
<circle cx="254.5" cy="626.3" r="1.2" fill="#b79f7b" stroke="#a08050" stroke-width="0.8"/>
<circle cx="308.6" cy="626.4" r="1.2" fill="#b79f7b" stroke="#a08050" stroke-width="0.8"/>
<circle cx="101.4" cy="626.3" r="1.2" fill="#e79c6a" stroke="#e07b39" stroke-width="0.8"/>
<circle cx="143.5" cy="625.3" r="1.4" fill="#db6f6f" stroke="#d04040" stroke-width="0.8"/>
<circle cx="269.2" cy="628.1" r="1.8" fill="#609ccb" stroke="#2b7bba" stroke-width="0.8"/>
<circle cx="204.3" cy="626.1" r="2.2" fill="#f39f6f" stroke="#f08040" stroke-width="0.8"/>
<circle cx="276.0" cy="624.8" r="1.2" fill="#6cc66c" stroke="#3cb43c" stroke-width="0.8"/>
<circle cx="167.6" cy="625.0" r="2.2" fill="#f39f6f" stroke="#f08040" stroke-width="0.8"/>
<circle cx="239.7" cy="627.6" r="1.8" fill="#e79c6a" stroke="#e07b39" stroke-width="0.8"/>
<circle cx="327.2" cy="627.7" r="1.2" fill="#d55d6c" stroke="#c8283c" stroke-width="0.8"/>
<circle cx="253.3" cy="625.9" r="1.8" fill="#db93c3" stroke="#d070b0" stroke-width="0.8"/>
<circle cx="201.1" cy="628.1" r="1.2" fill="#53a7a7" stroke="#1a8a8a" stroke-width="0.8"/>
<circle cx="134.6" cy="629.9" r="1.2" fill="#f39f6f" stroke="#f08040" stroke-width="0.8"/>
<circle cx="199.3" cy="625.9" r="2.0" fill="#db93c3" stroke="#d070b0" stroke-width="0.8"/>
<circle cx="332.5" cy="623.9" r="1.4" fill="#609ccb" stroke="#2b7bba" stroke-width="0.8"/>
<circle cx="229.8" cy="628.6" r="1.4" fill="#b79f7b" stroke="#a08050" stroke-width="0.8"/>
<circle cx="150.2" cy="625.1" r="2.2" fill="#b79f7b" stroke="#a08050" stroke-width="0.8"/>
<circle cx="154.6" cy="628.0" r="1.2" fill="#b3b3e7" stroke="#9a9ae0" stroke-width="0.8"/>
<circle cx="142.6" cy="627.8" r="1.2" fill="#6fb36f" stroke="#409a40" stroke-width="0.8"/>
<circle cx="85.9" cy="625.4" r="1.8" fill="#db93c3" stroke="#d070b0" stroke-width="0.8"/>
<circle cx="185.9" cy="626.2" r="1.8" fill="#9b77c3" stroke="#7a4ab0" stroke-width="0.8"/>
<circle cx="115.1" cy="624.9" r="1.6" fill="#53b390" stroke="#1a9a6c" stroke-width="0.8"/>
<circle cx="165.8" cy="625.6" r="1.4" fill="#53b390" stroke="#1a9a6c" stroke-width="0.8"/>
<circle cx="309.5" cy="627.7" r="1.6" fill="#e79c6a" stroke="#e07b39" stroke-width="0.8"/>
<circle cx="177.7" cy="622.8" r="2.0" fill="#609ccb" stroke="#2b7bba" stroke-width="0.8"/>
<circle cx="174.8" cy="629.8" r="1.8" fill="#e79c6a" stroke="#e07b39" stroke-width="0.8"/>
<circle cx="297.7" cy="626.3" r="2.2" fill="#f39f6f" stroke="#f08040" stroke-width="0.8"/>
<circle cx="243.1" cy="626.9" r="1.4" fill="#db6f6f" stroke="#d04040" stroke-width="0.8"/>
<circle cx="326.8" cy="625.2" r="1.6" fill="#8799ab" stroke="#607890" stroke-width="0.8"/>
<circle cx="305.2" cy="626.9" r="2.2" fill="#edb75d" stroke="#e8a028" stroke-width="0.8"/>
<circle cx="312.4" cy="628.2" r="2.2" fill="#609ccb" stroke="#2b7bba" stroke-width="0.8"/>
<circle cx="97.3" cy="625.7" r="2.2" fill="#8799ab" stroke="#607890" stroke-width="0.8"/>
<circle cx="197.3" cy="626.4" r="1.6" fill="#6b6bcf" stroke="#3a3ac0" stroke-width="0.8"/>
<circle cx="97.2" cy="624.2" r="2.0" fill="#6cc66c" stroke="#3cb43c" stroke-width="0.8"/>
<circle cx="127.5" cy="625.4" r="1.6" fill="#e79c6a" stroke="#e07b39" stroke-width="0.8"/>
<circle cx="186.1" cy="627.0" r="1.4" fill="#f39f6f" stroke="#f08040" stroke-width="0.8"/>
<circle cx="205.3" cy="626.0" r="2.2" fill="#6fb36f" stroke="#409a40" stroke-width="0.8"/>
<circle cx="103.7" cy="625.7" r="2.0" fill="#6b6bcf" stroke="#3a3ac0" stroke-width="0.8"/>
<circle cx="222.0" cy="625.1" r="1.8" fill="#8799ab" stroke="#607890" stroke-width="0.8"/>
<circle cx="119.8" cy="626.8" r="1.4" fill="#db6f6f" stroke="#d04040" stroke-width="0.8"/>
<circle cx="107.6" cy="626.0" r="1.4" fill="#b3b3e7" stroke="#9a9ae0" stroke-width="0.8"/>
<circle cx="149.3" cy="626.9" r="2.0" fill="#d55d6c" stroke="#c8283c" stroke-width="0.8"/>
<circle cx="305.9" cy="626.4" r="1.8" fill="#b79f7b" stroke="#a08050" stroke-width="0.8"/>
<circle cx="137.3" cy="624.9" r="1.6" fill="#9b77c3" stroke="#7a4ab0" stroke-width="0.8"/>
<circle cx="272.3" cy="624.4" r="1.6" fill="#6cc66c" stroke="#3cb43c" stroke-width="0.8"/>
<circle cx="256.0" cy="626.4" r="2.0" fill="#d55d6c" stroke="#c8283c" stroke-width="0.8"/>
<circle cx="108.1" cy="627.6" r="2.2" fill="#db93c3" stroke="#d070b0" stroke-width="0.8"/>
<circle cx="192.5" cy="625.5" r="1.6" fill="#53b390" stroke="#1a9a6c" stroke-width="0.8"/>
<circle cx="116.7" cy="624.1" r="1.8" fill="#6b6bcf" stroke="#3a3ac0" stroke-width="0.8"/>
<circle cx="85.0" cy="627.6" r="1.8" fill="#b79f7b" stroke="#a08050" stroke-width="0.8"/>
<circle cx="298.0" cy="627.5" r="1.2" fill="#db6f6f" stroke="#d04040" stroke-width="0.8"/>
<circle cx="123.4" cy="626.2" r="2.0" fill="#6387c3" stroke="#3060b0" stroke-width="0.8"/>
<circle cx="319.4" cy="626.0" r="1.8" fill="#609ccb" stroke="#2b7bba" stroke-width="0.8"/>
<circle cx="222.3" cy="624.3" r="1.2" fill="#53b390" stroke="#1a9a6c" stroke-width="0.8"/>
<circle cx="279.8" cy="626.8" r="2.2" fill="#f39f6f" stroke="#f08040" stroke-width="0.8"/>
<circle cx="324.6" cy="629.8" r="2.2" fill="#e79c6a" stroke="#e07b39" stroke-width="0.8"/>
<circle cx="216.5" cy="624.0" r="1.2" fill="#609ccb" stroke="#2b7bba" stroke-width="0.8"/>
<circle cx="159.8" cy="627.4" r="2.0" fill="#d55d6c" stroke="#c8283c" stroke-width="0.8"/>
<circle cx="181.6" cy="626.7" r="1.2" fill="#53a7a7" stroke="#1a8a8a" stroke-width="0.8"/>
<circle cx="160.1" cy="628.4" r="1.8" fill="#e79c6a" stroke="#e07b39" stroke-width="0.8"/>
<circle cx="323.8" cy="624.5" r="1.8" fill="#b79f7b" stroke="#a08050" stroke-width="0.8"/>
<circle cx="143.5" cy="623.9" r="1.4" fill="#53b390" stroke="#1a9a6c" stroke-width="0.8"/>
<circle cx="324.2" cy="626.0" r="1.2" fill="#d55d6c" stroke="#c8283c" stroke-width="0.8"/>
<circle cx="209.1" cy="625.2" r="2.2" fill="#8799ab" stroke="#607890" stroke-width="0.8"/>
<circle cx="105.2" cy="626.6" r="1.6" fill="#db6f6f" stroke="#d04040" stroke-width="0.8"/>
<circle cx="207.7" cy="628.0" r="2.2" fill="#9b77c3" stroke="#7a4ab0" stroke-width="0.8"/>
<circle cx="263.9" cy="625.4" r="1.2" fill="#f39f6f" stroke="#f08040" stroke-width="0.8"/>
<circle cx="269.0" cy="627.5" r="2.0" fill="#609ccb" stroke="#2b7bba" stroke-width="0.8"/>
<circle cx="136.1" cy="627.7" r="1.4" fill="#db6f6f" stroke="#d04040" stroke-width="0.8"/>
<circle cx="200.8" cy="626.2" r="1.6" fill="#f39f6f" stroke="#f08040" stroke-width="0.8"/>
<circle cx="112.1" cy="624.9" r="1.4" fill="#6b6bcf" stroke="#3a3ac0" stroke-width="0.8"/>
<circle cx="188.8" cy="625.0" r="2.2" fill="#59b7ab" stroke="#22a090" stroke-width="0.8"/>
<circle cx="321.2" cy="627.3" r="1.4" fill="#53b390" stroke="#1a9a6c" stroke-width="0.8"/>
<circle cx="327.6" cy="627.6" r="1.4" fill="#8799ab" stroke="#607890" stroke-width="0.8"/>
<circle cx="97.9" cy="627.8" r="2.2" fill="#9b77c3" stroke="#7a4ab0" stroke-width="0.8"/>
<circle cx="267.4" cy="627.0" r="1.2" fill="#6fb36f" stroke="#409a40" stroke-width="0.8"/>
<circle cx="167.0" cy="627.8" r="2.2" fill="#db93c3" stroke="#d070b0" stroke-width="0.8"/>
<circle cx="92.9" cy="629.6" r="2.2" fill="#edb75d" stroke="#e8a028" stroke-width="0.8"/>
<circle cx="293.9" cy="628.0" r="1.2" fill="#53b390" stroke="#1a9a6c" stroke-width="0.8"/>
<circle cx="104.5" cy="626.2" r="1.2" fill="#b3b3e7" stroke="#9a9ae0" stroke-width="0.8"/>
<circle cx="189.6" cy="627.8" r="1.4" fill="#edb75d" stroke="#e8a028" stroke-width="0.8"/>
<circle cx="173.8" cy="625.1" r="1.6" fill="#8799ab" stroke="#607890" stroke-width="0.8"/>
<circle cx="106.9" cy="626.1" r="2.0" fill="#db93c3" stroke="#d070b0" stroke-width="0.8"/>
<circle cx="133.1" cy="625.4" r="1.6" fill="#6b6bcf" stroke="#3a3ac0" stroke-width="0.8"/>
<circle cx="92.5" cy="624.1" r="1.8" fill="#59b7ab" stroke="#22a090" stroke-width="0.8"/>
<circle cx="178.5" cy="627.9" r="1.8" fill="#609ccb" stroke="#2b7bba" stroke-width="0.8"/>
<circle cx="285.0" cy="627.3" r="1.2" fill="#9b77c3" stroke="#7a4ab0" stroke-width="0.8"/>
<circle cx="175.4" cy="626.8" r="1.6" fill="#59b7ab" stroke="#22a090" stroke-width="0.8"/>
<circle cx="150.3" cy="626.1" r="1.6" fill="#f39f6f" stroke="#f08040" stroke-width="0.8"/>
<circle cx="85.9" cy="625.1" r="2.0" fill="#609ccb" stroke="#2b7bba" stroke-width="0.8"/>
<circle cx="91.0" cy="626.6" r="1.8" fill="#edb75d" stroke="#e8a028" stroke-width="0.8"/>
<circle cx="281.7" cy="628.1" r="1.8" fill="#6b6bcf" stroke="#3a3ac0" stroke-width="0.8"/>
<circle cx="118.0" cy="626.2" r="2.2" fill="#f39f6f" stroke="#f08040" stroke-width="0.8"/>
<circle cx="289.9" cy="626.4" r="1.4" fill="#db6f6f" stroke="#d04040" stroke-width="0.8"/>
<circle cx="166.6" cy="625.8" r="2.0" fill="#609ccb" stroke="#2b7bba" stroke-width="0.8"/>
<circle cx="212.5" cy="627.7" r="1.8" fill="#6fb36f" stroke="#409a40" stroke-width="0.8"/>
<circle cx="146.6" cy="626.8" r="2.0" fill="#53a7a7" stroke="#1a8a8a" stroke-width="0.8"/>
<circle cx="166.1" cy="626.6" r="1.8" fill="#6387c3" stroke="#3060b0" stroke-width="0.8"/>
<circle cx="331.0" cy="626.3" r="1.2" fill="#8799ab" stroke="#607890" stroke-width="0.8"/>
<circle cx="209.1" cy="627.0" r="2.2" fill="#db93c3" stroke="#d070b0" stroke-width="0.8"/>
<circle cx="128.1" cy="627.5" r="2.2" fill="#db6f6f" stroke="#d04040" stroke-width="0.8"/>
<circle cx="271.2" cy="627.6" r="2.2" fill="#6387c3" stroke="#3060b0" stroke-width="0.8"/>
<circle cx="279.2" cy="626.1" r="1.6" fill="#b3b3e7" stroke="#9a9ae0" stroke-width="0.8"/>
<circle cx="148.3" cy="627.6" r="1.6" fill="#d55d6c" stroke="#c8283c" stroke-width="0.8"/>
<circle cx="194.4" cy="626.8" r="1.6" fill="#d55d6c" stroke="#c8283c" stroke-width="0.8"/>
<circle cx="166.3" cy="627.4" r="1.8" fill="#e79c6a" stroke="#e07b39" stroke-width="0.8"/>
<circle cx="332.1" cy="625.3" r="1.2" fill="#db93c3" stroke="#d070b0" stroke-width="0.8"/>
<circle cx="331.7" cy="626.3" r="1.2" fill="#53b390" stroke="#1a9a6c" stroke-width="0.8"/>
<circle cx="203.2" cy="627.6" r="1.6" fill="#59b7ab" stroke="#22a090" stroke-width="0.8"/>
<circle cx="303.3" cy="623.8" r="1.4" fill="#6387c3" stroke="#3060b0" stroke-width="0.8"/>
<circle cx="97.5" cy="624.1" r="1.4" fill="#609ccb" stroke="#2b7bba" stroke-width="0.8"/>
<circle cx="177.7" cy="624.7" r="1.4" fill="#db93c3" stroke="#d070b0" stroke-width="0.8"/>
<circle cx="235.2" cy="626.7" r="1.2" fill="#6387c3" stroke="#3060b0" stroke-width="0.8"/>
<circle cx="243.7" cy="624.2" r="2.2" fill="#b3b3e7" stroke="#9a9ae0" stroke-width="0.8"/>
<circle cx="139.2" cy="625.8" r="1.4" fill="#e79c6a" stroke="#e07b39" stroke-width="0.8"/>
<circle cx="94.5" cy="627.0" r="2.2" fill="#d55d6c" stroke="#c8283c" stroke-width="0.8"/>
<circle cx="287.9" cy="627.0" r="1.6" fill="#6fb36f" stroke="#409a40" stroke-width="0.8"/>
<circle cx="239.6" cy="625.0" r="1.2" fill="#d55d6c" stroke="#c8283c" stroke-width="0.8"/>
<circle cx="92.8" cy="624.7" r="1.8" fill="#6387c3" stroke="#3060b0" stroke-width="0.8"/>
<circle cx="283.2" cy="626.4" r="2.2" fill="#53a7a7" stroke="#1a8a8a" stroke-width="0.8"/>
<circle cx="123.5" cy="624.3" r="1.8" fill="#e79c6a" stroke="#e07b39" stroke-width="0.8"/>
<circle cx="187.0" cy="625.9" r="1.6" fill="#f39f6f" stroke="#f08040" stroke-width="0.8"/>
<circle cx="189.0" cy="628.8" r="1.6" fill="#8799ab" stroke="#607890" stroke-width="0.8"/>
<circle cx="188.7" cy="627.2" r="1.6" fill="#d55d6c" stroke="#c8283c" stroke-width="0.8"/>
<circle cx="182.3" cy="623.4" r="1.8" fill="#6fb36f" stroke="#409a40" stroke-width="0.8"/>
<circle cx="190.5" cy="628.4" r="1.2" fill="#edb75d" stroke="#e8a028" stroke-width="0.8"/>
<circle cx="228.9" cy="624.7" r="1.4" fill="#53b390" stroke="#1a9a6c" stroke-width="0.8"/>
<circle cx="97.9" cy="628.3" r="1.4" fill="#edb75d" stroke="#e8a028" stroke-width="0.8"/>
<circle cx="107.2" cy="625.4" r="2.0" fill="#6fb36f" stroke="#409a40" stroke-width="0.8"/>
<circle cx="121.3" cy="625.4" r="1.6" fill="#6fb36f" stroke="#409a40" stroke-width="0.8"/>
<circle cx="214.8" cy="627.0" r="1.8" fill="#d55d6c" stroke="#c8283c" stroke-width="0.8"/>
<circle cx="160.1" cy="626.1" r="1.2" fill="#6b6bcf" stroke="#3a3ac0" stroke-width="0.8"/>
<circle cx="163.3" cy="624.7" r="1.2" fill="#6fb36f" stroke="#409a40" stroke-width="0.8"/>
<circle cx="244.4" cy="625.1" r="1.4" fill="#edb75d" stroke="#e8a028" stroke-width="0.8"/>
<circle cx="238.1" cy="627.0" r="2.0" fill="#d55d6c" stroke="#c8283c" stroke-width="0.8"/>
<circle cx="95.4" cy="628.0" r="2.0" fill="#6fb36f" stroke="#409a40" stroke-width="0.8"/>
<circle cx="180.5" cy="627.2" r="2.2" fill="#d55d6c" stroke="#c8283c" stroke-width="0.8"/>
<circle cx="95.2" cy="627.2" r="2.0" fill="#59b7ab" stroke="#22a090" stroke-width="0.8"/>
<circle cx="251.3" cy="625.7" r="1.8" fill="#53a7a7" stroke="#1a8a8a" stroke-width="0.8"/>
<circle cx="296.4" cy="627.7" r="1.6" fill="#8799ab" stroke="#607890" stroke-width="0.8"/>
<circle cx="161.7" cy="626.4" r="1.6" fill="#db93c3" stroke="#d070b0" stroke-width="0.8"/>
<circle cx="210.4" cy="627.9" r="1.4" fill="#53b390" stroke="#1a9a6c" stroke-width="0.8"/>
<circle cx="85.9" cy="628.1" r="1.8" fill="#db93c3" stroke="#d070b0" stroke-width="0.8"/>
<circle cx="293.3" cy="626.3" r="1.8" fill="#edb75d" stroke="#e8a028" stroke-width="0.8"/>
<circle cx="111.7" cy="627.5" r="1.2" fill="#db93c3" stroke="#d070b0" stroke-width="0.8"/>
<circle cx="210.6" cy="627.5" r="2.2" fill="#59b7ab" stroke="#22a090" stroke-width="0.8"/>
<circle cx="95.1" cy="628.7" r="1.6" fill="#b79f7b" stroke="#a08050" stroke-width="0.8"/>
<circle cx="104.9" cy="628.9" r="2.0" fill="#edb75d" stroke="#e8a028" stroke-width="0.8"/>
<circle cx="247.5" cy="626.5" r="1.2" fill="#6387c3" stroke="#3060b0" stroke-width="0.8"/>
<circle cx="133.2" cy="626.1" r="1.8" fill="#f39f6f" stroke="#f08040" stroke-width="0.8"/>
<circle cx="323.2" cy="627.2" r="2.2" fill="#db6f6f" stroke="#d04040" stroke-width="0.8"/>
<circle cx="101.3" cy="625.9" r="1.6" fill="#e79c6a" stroke="#e07b39" stroke-width="0.8"/>
<circle cx="124.5" cy="627.4" r="1.8" fill="#6cc66c" stroke="#3cb43c" stroke-width="0.8"/>
<circle cx="148.3" cy="625.7" r="1.8" fill="#d55d6c" stroke="#c8283c" stroke-width="0.8"/>
<circle cx="232.4" cy="625.6" r="1.6" fill="#59b7ab" stroke="#22a090" stroke-width="0.8"/>
<circle cx="134.5" cy="625.7" r="1.8" fill="#6fb36f" stroke="#409a40" stroke-width="0.8"/>
<circle cx="243.5" cy="626.2" r="1.8" fill="#6fb36f" stroke="#409a40" stroke-width="0.8"/>
<circle cx="282.2" cy="627.7" r="1.6" fill="#6387c3" stroke="#3060b0" stroke-width="0.8"/>
<circle cx="276.3" cy="629.2" r="1.8" fill="#53a7a7" stroke="#1a8a8a" stroke-width="0.8"/>
<circle cx="214.8" cy="627.3" r="2.2" fill="#6387c3" stroke="#3060b0" stroke-width="0.8"/>
<circle cx="147.8" cy="623.5" r="2.2" fill="#b3b3e7" stroke="#9a9ae0" stroke-width="0.8"/>
<circle cx="150.9" cy="625.7" r="1.6" fill="#6cc66c" stroke="#3cb43c" stroke-width="0.8"/>
<circle cx="174.7" cy="626.5" r="1.4" fill="#59b7ab" stroke="#22a090" stroke-width="0.8"/>
<circle cx="158.8" cy="624.8" r="2.0" fill="#e79c6a" stroke="#e07b39" stroke-width="0.8"/>
<circle cx="162.2" cy="629.4" r="2.2" fill="#9b77c3" stroke="#7a4ab0" stroke-width="0.8"/>
<circle cx="267.5" cy="625.8" r="2.2" fill="#59b7ab" stroke="#22a090" stroke-width="0.8"/>
<circle cx="140.2" cy="625.9" r="1.8" fill="#b79f7b" stroke="#a08050" stroke-width="0.8"/>
<circle cx="175.7" cy="628.4" r="1.2" fill="#6cc66c" stroke="#3cb43c" stroke-width="0.8"/>
<circle cx="206.6" cy="626.1" r="1.2" fill="#53b390" stroke="#1a9a6c" stroke-width="0.8"/>
<circle cx="226.2" cy="626.1" r="1.6" fill="#6387c3" stroke="#3060b0" stroke-width="0.8"/>
<circle cx="215.2" cy="624.9" r="1.6" fill="#6cc66c" stroke="#3cb43c" stroke-width="0.8"/>
<circle cx="135.8" cy="626.1" r="2.0" fill="#6b6bcf" stroke="#3a3ac0" stroke-width="0.8"/>
<circle cx="124.5" cy="629.1" r="2.2" fill="#6cc66c" stroke="#3cb43c" stroke-width="0.8"/>
<circle cx="197.3" cy="626.6" r="1.2" fill="#6cc66c" stroke="#3cb43c" stroke-width="0.8"/>
<circle cx="302.0" cy="626.7" r="1.6" fill="#53b390" stroke="#1a9a6c" stroke-width="0.8"/>
<circle cx="99.0" cy="624.9" r="2.0" fill="#b3b3e7" stroke="#9a9ae0" stroke-width="0.8"/>
<circle cx="233.1" cy="624.6" r="2.0" fill="#6b6bcf" stroke="#3a3ac0" stroke-width="0.8"/>
<circle cx="146.9" cy="625.4" r="1.2" fill="#59b7ab" stroke="#22a090" stroke-width="0.8"/>
<circle cx="100.3" cy="627.3" r="1.4" fill="#59b7ab" stroke="#22a090" stroke-width="0.8"/>
<circle cx="312.0" cy="626.6" r="1.2" fill="#53b390" stroke="#1a9a6c" stroke-width="0.8"/>
<circle cx="237.5" cy="625.9" r="1.8" fill="#d55d6c" stroke="#c8283c" stroke-width="0.8"/>
<circle cx="214.0" cy="625.6" r="2.2" fill="#b79f7b" stroke="#a08050" stroke-width="0.8"/>
<circle cx="246.3" cy="624.6" r="2.0" fill="#f39f6f" stroke="#f08040" stroke-width="0.8"/>
<circle cx="100.9" cy="627.4" r="2.2" fill="#59b7ab" stroke="#22a090" stroke-width="0.8"/>
<circle cx="332.5" cy="626.1" r="2.0" fill="#53b390" stroke="#1a9a6c" stroke-width="0.8"/>
<circle cx="178.4" cy="624.7" r="1.8" fill="#db93c3" stroke="#d070b0" stroke-width="0.8"/>
<circle cx="105.0" cy="625.9" r="1.2" fill="#e79c6a" stroke="#e07b39" stroke-width="0.8"/>
<circle cx="142.8" cy="625.6" r="1.2" fill="#6387c3" stroke="#3060b0" stroke-width="0.8"/>
<circle cx="168.5" cy="626.4" r="1.6" fill="#59b7ab" stroke="#22a090" stroke-width="0.8"/>
<circle cx="151.2" cy="624.1" r="2.0" fill="#8799ab" stroke="#607890" stroke-width="0.8"/>
<circle cx="255.7" cy="629.9" r="1.6" fill="#d55d6c" stroke="#c8283c" stroke-width="0.8"/>
<circle cx="106.3" cy="624.4" r="2.0" fill="#53b390" stroke="#1a9a6c" stroke-width="0.8"/>
<circle cx="127.3" cy="628.8" r="1.4" fill="#6fb36f" stroke="#409a40" stroke-width="0.8"/>
<circle cx="270.8" cy="624.8" r="1.6" fill="#d55d6c" stroke="#c8283c" stroke-width="0.8"/>
<circle cx="304.2" cy="625.9" r="2.2" fill="#53a7a7" stroke="#1a8a8a" stroke-width="0.8"/>
<circle cx="201.9" cy="627.4" r="2.0" fill="#53b390" stroke="#1a9a6c" stroke-width="0.8"/>
<circle cx="298.5" cy="624.2" r="2.0" fill="#f39f6f" stroke="#f08040" stroke-width="0.8"/>
<circle cx="281.5" cy="627.3" r="1.8" fill="#609ccb" stroke="#2b7bba" stroke-width="0.8"/>
<circle cx="225.7" cy="626.6" r="1.2" fill="#6387c3" stroke="#3060b0" stroke-width="0.8"/>
<circle cx="239.9" cy="626.7" r="1.4" fill="#b3b3e7" stroke="#9a9ae0" stroke-width="0.8"/>
<circle cx="328.4" cy="626.3" r="1.4" fill="#59b7ab" stroke="#22a090" stroke-width="0.8"/>
<circle cx="258.6" cy="626.0" r="2.2" fill="#59b7ab" stroke="#22a090" stroke-width="0.8"/>
<circle cx="101.4" cy="625.2" r="2.0" fill="#609ccb" stroke="#2b7bba" stroke-width="0.8"/>
<circle cx="304.0" cy="625.6" r="2.2" fill="#edb75d" stroke="#e8a028" stroke-width="0.8"/>
<circle cx="111.7" cy="626.6" r="1.2" fill="#609ccb" stroke="#2b7bba" stroke-width="0.8"/>
<circle cx="290.4" cy="627.1" r="2.2" fill="#f39f6f" stroke="#f08040" stroke-width="0.8"/>
<circle cx="203.8" cy="628.2" r="2.2" fill="#d55d6c" stroke="#c8283c" stroke-width="0.8"/>
<circle cx="158.3" cy="628.4" r="1.6" fill="#8799ab" stroke="#607890" stroke-width="0.8"/>
<circle cx="150.0" cy="624.4" r="1.2" fill="#b3b3e7" stroke="#9a9ae0" stroke-width="0.8"/>
<circle cx="311.7" cy="629.2" r="2.0" fill="#b79f7b" stroke="#a08050" stroke-width="0.8"/>
<circle cx="203.5" cy="625.8" r="1.8" fill="#53b390" stroke="#1a9a6c" stroke-width="0.8"/>
<circle cx="193.7" cy="628.8" r="1.2" fill="#b3b3e7" stroke="#9a9ae0" stroke-width="0.8"/>
<circle cx="201.8" cy="628.3" r="2.2" fill="#609ccb" stroke="#2b7bba" stroke-width="0.8"/>
<circle cx="228.1" cy="627.0" r="1.6" fill="#6fb36f" stroke="#409a40" stroke-width="0.8"/>
<circle cx="193.6" cy="625.2" r="1.2" fill="#53b390" stroke="#1a9a6c" stroke-width="0.8"/>
<circle cx="171.6" cy="626.2" r="1.2" fill="#6b6bcf" stroke="#3a3ac0" stroke-width="0.8"/>
<circle cx="258.1" cy="628.2" r="2.0" fill="#b3b3e7" stroke="#9a9ae0" stroke-width="0.8"/>
<circle cx="323.3" cy="622.9" r="2.0" fill="#e79c6a" stroke="#e07b39" stroke-width="0.8"/>
<circle cx="228.9" cy="627.9" r="2.2" fill="#db6f6f" stroke="#d04040" stroke-width="0.8"/>
<circle cx="209.1" cy="628.7" r="1.2" fill="#609ccb" stroke="#2b7bba" stroke-width="0.8"/>
<circle cx="207.1" cy="628.3" r="1.2" fill="#9b77c3" stroke="#7a4ab0" stroke-width="0.8"/>
<circle cx="173.5" cy="626.3" r="1.8" fill="#edb75d" stroke="#e8a028" stroke-width="0.8"/>
<circle cx="307.1" cy="626.4" r="2.2" fill="#53b390" stroke="#1a9a6c" stroke-width="0.8"/>
<circle cx="177.6" cy="624.8" r="1.6" fill="#e79c6a" stroke="#e07b39" stroke-width="0.8"/>
<circle cx="191.6" cy="625.5" r="2.2" fill="#db6f6f" stroke="#d04040" stroke-width="0.8"/>
<circle cx="320.0" cy="626.1" r="1.4" fill="#53a7a7" stroke="#1a8a8a" stroke-width="0.8"/>
<circle cx="232.9" cy="625.6" r="1.2" fill="#b3b3e7" stroke="#9a9ae0" stroke-width="0.8"/>
<circle cx="229.8" cy="624.5" r="2.0" fill="#6cc66c" stroke="#3cb43c" stroke-width="0.8"/>
<circle cx="301.1" cy="624.6" r="1.6" fill="#6fb36f" stroke="#409a40" stroke-width="0.8"/>
<circle cx="200.3" cy="627.0" r="2.2" fill="#e79c6a" stroke="#e07b39" stroke-width="0.8"/>
<circle cx="229.2" cy="627.6" r="2.2" fill="#db6f6f" stroke="#d04040" stroke-width="0.8"/>
<circle cx="211.4" cy="627.6" r="1.6" fill="#f39f6f" stroke="#f08040" stroke-width="0.8"/>
<circle cx="272.9" cy="627.4" r="2.2" fill="#6cc66c" stroke="#3cb43c" stroke-width="0.8"/>
<circle cx="327.7" cy="624.6" r="2.2" fill="#9b77c3" stroke="#7a4ab0" stroke-width="0.8"/>
<circle cx="235.1" cy="625.8" r="1.4" fill="#e79c6a" stroke="#e07b39" stroke-width="0.8"/>
<circle cx="327.8" cy="627.3" r="2.2" fill="#6387c3" stroke="#3060b0" stroke-width="0.8"/>
<circle cx="126.0" cy="625.9" r="1.4" fill="#6cc66c" stroke="#3cb43c" stroke-width="0.8"/>
<circle cx="282.9" cy="625.6" r="2.2" fill="#f39f6f" stroke="#f08040" stroke-width="0.8"/>
<circle cx="193.3" cy="627.1" r="1.2" fill="#e79c6a" stroke="#e07b39" stroke-width="0.8"/>
<circle cx="136.4" cy="628.4" r="1.8" fill="#db93c3" stroke="#d070b0" stroke-width="0.8"/>
<circle cx="93.4" cy="624.3" r="2.2" fill="#db6f6f" stroke="#d04040" stroke-width="0.8"/>
<circle cx="209.6" cy="628.0" r="2.2" fill="#f39f6f" stroke="#f08040" stroke-width="0.8"/>
<circle cx="200.4" cy="627.7" r="1.8" fill="#53b390" stroke="#1a9a6c" stroke-width="0.8"/>
<circle cx="269.5" cy="628.0" r="1.8" fill="#8799ab" stroke="#607890" stroke-width="0.8"/>
<circle cx="295.7" cy="625.3" r="2.2" fill="#db6f6f" stroke="#d04040" stroke-width="0.8"/>
<circle cx="254.2" cy="624.5" r="2.2" fill="#6387c3" stroke="#3060b0" stroke-width="0.8"/>
<circle cx="198.0" cy="625.6" r="1.2" fill="#8799ab" stroke="#607890" stroke-width="0.8"/>
<circle cx="145.4" cy="628.3" r="1.8" fill="#6fb36f" stroke="#409a40" stroke-width="0.8"/>
<circle cx="147.3" cy="624.9" r="2.0" fill="#8799ab" stroke="#607890" stroke-width="0.8"/>
<circle cx="214.0" cy="627.2" r="2.2" fill="#6fb36f" stroke="#409a40" stroke-width="0.8"/>
<circle cx="307.7" cy="626.3" r="1.8" fill="#6387c3" stroke="#3060b0" stroke-width="0.8"/>
<circle cx="94.5" cy="626.6" r="2.0" fill="#d55d6c" stroke="#c8283c" stroke-width="0.8"/>
<circle cx="125.0" cy="627.1" r="2.0" fill="#b3b3e7" stroke="#9a9ae0" stroke-width="0.8"/>
<circle cx="110.2" cy="622.9" r="2.0" fill="#db93c3" stroke="#d070b0" stroke-width="0.8"/>
<circle cx="219.7" cy="626.0" r="2.2" fill="#b3b3e7" stroke="#9a9ae0" stroke-width="0.8"/>
<circle cx="214.9" cy="624.6" r="1.8" fill="#db93c3" stroke="#d070b0" stroke-width="0.8"/>
<circle cx="137.3" cy="625.8" r="1.2" fill="#b3b3e7" stroke="#9a9ae0" stroke-width="0.8"/>
<circle cx="243.8" cy="625.0" r="1.6" fill="#e79c6a" stroke="#e07b39" stroke-width="0.8"/>
<circle cx="180.1" cy="626.9" r="1.8" fill="#b3b3e7" stroke="#9a9ae0" stroke-width="0.8"/>
<circle cx="229.5" cy="626.6" r="1.2" fill="#db6f6f" stroke="#d04040" stroke-width="0.8"/>
<circle cx="160.6" cy="623.4" r="1.4" fill="#edb75d" stroke="#e8a028" stroke-width="0.8"/>
<circle cx="200.1" cy="628.6" r="1.4" fill="#6cc66c" stroke="#3cb43c" stroke-width="0.8"/>
<circle cx="316.4" cy="628.8" r="1.4" fill="#6b6bcf" stroke="#3a3ac0" stroke-width="0.8"/>
<circle cx="244.9" cy="627.5" r="2.2" fill="#db6f6f" stroke="#d04040" stroke-width="0.8"/>
<circle cx="287.8" cy="627.7" r="1.8" fill="#db93c3" stroke="#d070b0" stroke-width="0.8"/>
<circle cx="333.0" cy="628.2" r="2.0" fill="#6cc66c" stroke="#3cb43c" stroke-width="0.8"/>
<circle cx="279.2" cy="623.8" r="1.4" fill="#e79c6a" stroke="#e07b39" stroke-width="0.8"/>
<circle cx="260.3" cy="626.9" r="2.2" fill="#e79c6a" stroke="#e07b39" stroke-width="0.8"/>
<circle cx="329.7" cy="625.7" r="2.2" fill="#e79c6a" stroke="#e07b39" stroke-width="0.8"/>
<circle cx="174.1" cy="624.8" r="2.2" fill="#f39f6f" stroke="#f08040" stroke-width="0.8"/>
<circle cx="164.8" cy="624.3" r="1.2" fill="#b3b3e7" stroke="#9a9ae0" stroke-width="0.8"/>
<circle cx="123.0" cy="626.6" r="1.6" fill="#edb75d" stroke="#e8a028" stroke-width="0.8"/>
<circle cx="99.2" cy="627.9" r="1.4" fill="#b79f7b" stroke="#a08050" stroke-width="0.8"/>
<circle cx="292.0" cy="623.5" r="2.2" fill="#53b390" stroke="#1a9a6c" stroke-width="0.8"/>
<circle cx="248.7" cy="626.5" r="1.6" fill="#e79c6a" stroke="#e07b39" stroke-width="0.8"/>
<circle cx="236.4" cy="627.0" r="2.0" fill="#6cc66c" stroke="#3cb43c" stroke-width="0.8"/>
<circle cx="297.7" cy="627.0" r="1.4" fill="#d55d6c" stroke="#c8283c" stroke-width="0.8"/>
<circle cx="310.1" cy="627.9" r="2.0" fill="#6fb36f" stroke="#409a40" stroke-width="0.8"/>
<circle cx="236.8" cy="624.8" r="1.2" fill="#53a7a7" stroke="#1a8a8a" stroke-width="0.8"/>
<circle cx="281.2" cy="622.8" r="1.6" fill="#d55d6c" stroke="#c8283c" stroke-width="0.8"/>
<circle cx="208.1" cy="626.5" r="1.8" fill="#6387c3" stroke="#3060b0" stroke-width="0.8"/>
<circle cx="223.2" cy="627.0" r="1.6" fill="#8799ab" stroke="#607890" stroke-width="0.8"/>
<circle cx="143.3" cy="627.5" r="1.2" fill="#6b6bcf" stroke="#3a3ac0" stroke-width="0.8"/>
<circle cx="201.3" cy="627.7" r="1.4" fill="#6b6bcf" stroke="#3a3ac0" stroke-width="0.8"/>
<circle cx="146.4" cy="627.4" r="2.2" fill="#53b390" stroke="#1a9a6c" stroke-width="0.8"/>
<circle cx="124.9" cy="628.1" r="1.6" fill="#db93c3" stroke="#d070b0" stroke-width="0.8"/>
<circle cx="258.3" cy="625.1" r="1.8" fill="#b3b3e7" stroke="#9a9ae0" stroke-width="0.8"/>
<circle cx="191.0" cy="626.4" r="2.2" fill="#609ccb" stroke="#2b7bba" stroke-width="0.8"/>
<circle cx="129.9" cy="625.0" r="1.2" fill="#59b7ab" stroke="#22a090" stroke-width="0.8"/>
<circle cx="255.0" cy="628.1" r="1.6" fill="#6387c3" stroke="#3060b0" stroke-width="0.8"/>
<circle cx="212.1" cy="623.2" r="1.2" fill="#d55d6c" stroke="#c8283c" stroke-width="0.8"/>
<circle cx="263.8" cy="626.7" r="2.2" fill="#6cc66c" stroke="#3cb43c" stroke-width="0.8"/>
<circle cx="169.3" cy="627.3" r="1.8" fill="#b79f7b" stroke="#a08050" stroke-width="0.8"/>
<circle cx="223.0" cy="625.3" r="1.4" fill="#f39f6f" stroke="#f08040" stroke-width="0.8"/>
<circle cx="193.4" cy="624.7" r="1.6" fill="#f39f6f" stroke="#f08040" stroke-width="0.8"/>
<circle cx="173.4" cy="627.3" r="1.8" fill="#edb75d" stroke="#e8a028" stroke-width="0.8"/>
<circle cx="168.1" cy="629.4" r="1.6" fill="#d55d6c" stroke="#c8283c" stroke-width="0.8"/>
<circle cx="248.0" cy="626.1" r="1.2" fill="#9b77c3" stroke="#7a4ab0" stroke-width="0.8"/>
<circle cx="132.9" cy="626.2" r="2.2" fill="#609ccb" stroke="#2b7bba" stroke-width="0.8"/>
<circle cx="280.3" cy="625.6" r="1.2" fill="#edb75d" stroke="#e8a028" stroke-width="0.8"/>
<circle cx="264.9" cy="627.8" r="1.2" fill="#edb75d" stroke="#e8a028" stroke-width="0.8"/>
<circle cx="159.8" cy="625.2" r="1.2" fill="#59b7ab" stroke="#22a090" stroke-width="0.8"/>
<circle cx="132.3" cy="628.2" r="2.2" fill="#59b7ab" stroke="#22a090" stroke-width="0.8"/>
<circle cx="281.5" cy="625.4" r="2.0" fill="#edb75d" stroke="#e8a028" stroke-width="0.8"/>
<circle cx="238.6" cy="624.8" r="2.0" fill="#609ccb" stroke="#2b7bba" stroke-width="0.8"/>
<circle cx="137.9" cy="624.7" r="2.2" fill="#db93c3" stroke="#d070b0" stroke-width="0.8"/>
<circle cx="240.7" cy="627.4" r="1.2" fill="#8799ab" stroke="#607890" stroke-width="0.8"/>
<circle cx="277.9" cy="628.4" r="2.2" fill="#53b390" stroke="#1a9a6c" stroke-width="0.8"/>
<circle cx="176.8" cy="627.6" r="2.0" fill="#e79c6a" stroke="#e07b39" stroke-width="0.8"/>
<circle cx="299.8" cy="624.0" r="1.4" fill="#8799ab" stroke="#607890" stroke-width="0.8"/>
<circle cx="93.5" cy="628.3" r="2.0" fill="#59b7ab" stroke="#22a090" stroke-width="0.8"/>
<circle cx="208.9" cy="626.6" r="2.0" fill="#59b7ab" stroke="#22a090" stroke-width="0.8"/>
<circle cx="290.4" cy="626.6" r="2.2" fill="#edb75d" stroke="#e8a028" stroke-width="0.8"/>
<circle cx="196.2" cy="624.8" r="1.2" fill="#edb75d" stroke="#e8a028" stroke-width="0.8"/>
<circle cx="232.9" cy="628.6" r="1.4" fill="#6b6bcf" stroke="#3a3ac0" stroke-width="0.8"/>
<circle cx="276.7" cy="626.3" r="2.0" fill="#6387c3" stroke="#3060b0" stroke-width="0.8"/>
<circle cx="105.6" cy="623.3" r="2.2" fill="#53b390" stroke="#1a9a6c" stroke-width="0.8"/>
<circle cx="191.3" cy="627.0" r="1.2" fill="#6387c3" stroke="#3060b0" stroke-width="0.8"/>
<circle cx="330.7" cy="627.1" r="1.2" fill="#6cc66c" stroke="#3cb43c" stroke-width="0.8"/>
<circle cx="202.6" cy="625.6" r="1.6" fill="#db6f6f" stroke="#d04040" stroke-width="0.8"/>
<circle cx="197.2" cy="626.3" r="1.6" fill="#6cc66c" stroke="#3cb43c" stroke-width="0.8"/>
<circle cx="266.7" cy="623.0" r="1.2" fill="#f39f6f" stroke="#f08040" stroke-width="0.8"/>
<circle cx="241.5" cy="626.0" r="1.6" fill="#59b7ab" stroke="#22a090" stroke-width="0.8"/>
<circle cx="263.6" cy="624.8" r="1.2" fill="#59b7ab" stroke="#22a090" stroke-width="0.8"/>
<circle cx="88.7" cy="624.8" r="1.2" fill="#edb75d" stroke="#e8a028" stroke-width="0.8"/>
<circle cx="162.5" cy="624.2" r="2.2" fill="#6fb36f" stroke="#409a40" stroke-width="0.8"/>
<circle cx="323.5" cy="627.4" r="1.6" fill="#b3b3e7" stroke="#9a9ae0" stroke-width="0.8"/>
<circle cx="321.2" cy="624.6" r="2.2" fill="#db93c3" stroke="#d070b0" stroke-width="0.8"/>
<circle cx="96.4" cy="621.8" r="2.0" fill="#f3cf93" fill-opacity="1.0" stroke="#e8a028" stroke-width="1.0"/>
<circle cx="87.2" cy="621.8" r="2.0" fill="#e3939d" fill-opacity="1.0" stroke="#c8283c" stroke-width="1.0"/>
<circle cx="119.9" cy="621.8" r="1.8" fill="#ccccef" fill-opacity="1.0" stroke="#9a9ae0" stroke-width="1.0"/>
<circle cx="124.5" cy="620.3" r="1.8" fill="#f3df9f" fill-opacity="1.0" stroke="#e8c040" stroke-width="1.0"/>
<circle cx="139.8" cy="619.3" r="2.2" fill="#efbd9c" fill-opacity="1.0" stroke="#e07b39" stroke-width="1.0"/>
<circle cx="145.4" cy="618.3" r="2.2" fill="#95bddc" fill-opacity="1.0" stroke="#2b7bba" stroke-width="1.0"/>
<circle cx="167.0" cy="611.6" r="1.6" fill="#ccccef" fill-opacity="1.0" stroke="#9a9ae0" stroke-width="1.0"/>
<circle cx="177.2" cy="607.0" r="2.0" fill="#f8ebc4" fill-opacity="1.0" stroke="#f2d88a" stroke-width="1.0"/>
<circle cx="174.6" cy="613.7" r="1.8" fill="#f3cf93" fill-opacity="1.0" stroke="#e8a028" stroke-width="1.0"/>
<circle cx="180.3" cy="616.7" r="2.0" fill="#f3cf93" fill-opacity="1.0" stroke="#e8a028" stroke-width="1.0"/>
<circle cx="148.1" cy="619.3" r="2.5" fill="#95bddc" fill-opacity="1.0" stroke="#2b7bba" stroke-width="1.0"/>
<circle cx="154.7" cy="618.8" r="2.5" fill="#9dd99d" fill-opacity="1.0" stroke="#3cb43c" stroke-width="1.0"/>
<circle cx="194.0" cy="617.8" r="2.0" fill="#ccccef" fill-opacity="1.0" stroke="#9a9ae0" stroke-width="1.0"/>
<circle cx="205.3" cy="619.3" r="3.2" fill="#ccccef" fill-opacity="1.0" stroke="#9a9ae0" stroke-width="1.0"/>
<circle cx="167.5" cy="622.3" r="2.8" fill="#acd1eb" fill-opacity="1.0" stroke="#5aa4d8" stroke-width="1.0"/>
<circle cx="224.3" cy="616.7" r="2.2" fill="#efbfbf" fill-opacity="1.0" stroke="#e08080" stroke-width="1.0"/>
<circle cx="245.7" cy="617.8" r="2.4" fill="#f3cf93" fill-opacity="1.0" stroke="#e8a028" stroke-width="1.0"/>
<circle cx="237.0" cy="618.8" r="2.0" fill="#acd1eb" fill-opacity="1.0" stroke="#5aa4d8" stroke-width="1.0"/>
<circle cx="244.7" cy="621.3" r="2.0" fill="#90cfc7" fill-opacity="1.0" stroke="#22a090" stroke-width="1.0"/>
<circle cx="219.7" cy="621.8" r="1.8" fill="#9dd99d" fill-opacity="1.0" stroke="#3cb43c" stroke-width="1.0"/>
<circle cx="227.3" cy="622.0" r="1.8" fill="#9dd99d" fill-opacity="1.0" stroke="#3cb43c" stroke-width="1.0"/>
<circle cx="250.3" cy="622.9" r="1.6" fill="#efbd9c" fill-opacity="1.0" stroke="#e07b39" stroke-width="1.0"/>
<circle cx="313.8" cy="622.3" r="2.4" fill="#90cfc7" fill-opacity="1.0" stroke="#22a090" stroke-width="1.0"/>
<circle cx="331.1" cy="621.8" r="2.2" fill="#9dd99d" fill-opacity="1.0" stroke="#3cb43c" stroke-width="1.0"/>
<circle cx="322.5" cy="622.3" r="2.2" fill="#ccccef" fill-opacity="1.0" stroke="#9a9ae0" stroke-width="1.0"/>
<circle cx="159.8" cy="619.8" r="1.3" fill="#2a2a90"/>
<circle cx="310.7" cy="620.3" r="1.3" fill="#2a5a90"/>
<circle cx="304.7" cy="431.9" r="16.1" fill="#bde0f7" fill-opacity="0.85" stroke="#5aaae0" stroke-width="1.0"/>
<text stroke="#70aede" stroke-width="0.22" x="296.8" y="412.3" font-size="7.5" fill="#70aede">TP53</text>
<rect x="227.7" y="526.0" width="27.9" height="7" fill="#fff"/>
<text stroke="#44c444" stroke-width="0.22" x="228.2" y="532.0" font-size="7.5" fill="#44c444">PIK3CA</text>
<circle cx="242" cy="539.4" r="4.3" fill="#bdeabd" fill-opacity="1.0" stroke="#44c444" stroke-width="1.2"/>
<circle cx="162.4" cy="594.3" r="5.5" fill="#efbabf" fill-opacity="1.0" stroke="#d02838" stroke-width="1.3"/>
<text stroke="#d02838" stroke-width="0.22" x="153.7" y="585.5" font-size="7.5" fill="#d02838">FAT4</text>
<text stroke="#e07b39" stroke-width="0.22" transform="translate(97.4,598.0) rotate(-90)" font-size="7.6" fill="#e07b39">APC</text>
<text stroke="#2b7bba" stroke-width="0.22" transform="translate(107.4,609.5) rotate(-90)" font-size="7.6" fill="#2b7bba">ARID1A</text>
<text stroke="#1a9a6c" stroke-width="0.22" transform="translate(119.7,594.9) rotate(-90)" font-size="7.6" fill="#1a9a6c">CACNA1E</text>
<text stroke="#9c9cd4" stroke-width="0.22" transform="translate(127.8,606.9) rotate(-90)" font-size="7.6" fill="#9c9cd4">CDH1</text>
<text stroke="#9c9cd4" stroke-width="0.22" transform="translate(135.8,608.5) rotate(-90)" font-size="7.6" fill="#9c9cd4">CMYA5</text>
<text stroke="#c898c8" stroke-width="0.22" transform="translate(143.0,605.6) rotate(-90)" font-size="7.6" fill="#c898c8">CTNNB1</text>
<text stroke="#f2d88a" stroke-width="0.22" transform="translate(151.3,604.8) rotate(-90)" font-size="7.6" fill="#f2d88a">ELTD1</text>
<text stroke="#f5d890" stroke-width="0.22" transform="translate(180.2,609.8) rotate(-90)" font-size="7.6" fill="#f5d890">GPC6</text>
<text stroke="#44c444" stroke-width="0.22" transform="translate(199.9,605.1) rotate(-90)" font-size="7.6" fill="#44c444">LDOC1</text>
<text stroke="#e8a838" stroke-width="0.22" transform="translate(211.1,587.6) rotate(-90)" font-size="7.6" fill="#e8a838">MAP2</text>
<text stroke="#dca0c8" stroke-width="0.22" transform="translate(237.6,597.2) rotate(-90)" font-size="7.6" fill="#dca0c8">PCDH9</text>
<text stroke="#c8283c" stroke-width="0.22" transform="translate(248.3,611.0) rotate(-90)" font-size="7.6" fill="#c8283c">PKHD1L1</text>
<text stroke="#d83a4a" stroke-width="0.22" transform="translate(276.1,608.2) rotate(-90)" font-size="7.6" fill="#d83a4a">SHROOM3</text>
<text stroke="#22a878" stroke-width="0.22" transform="translate(285.2,608.2) rotate(-90)" font-size="7.6" fill="#22a878">SMAD4</text>
<text stroke="#2a6ab0" stroke-width="0.22" transform="translate(300.7,608.2) rotate(-90)" font-size="7.6" fill="#2a6ab0">TLR4</text>
<text stroke="#f0a870" stroke-width="0.22" transform="translate(309.1,608.2) rotate(-90)" font-size="7.6" fill="#f0a870">TSC22D3</text>
<text stroke="#e8a828" stroke-width="0.22" transform="translate(327.8,588.7) rotate(-90)" font-size="7.6" fill="#e8a828">ZNF167</text>
<text stroke="#88b8e8" stroke-width="0.22" transform="translate(333.3,619.9) rotate(-90)" font-size="7.6" fill="#88b8e8">ZNF117</text>
<text stroke="#f0c878" stroke-width="0.22" x="102.6" y="616.8" font-size="7.5" fill="#f0c878">CDH2</text>
<text stroke="#9898d8" stroke-width="0.22" x="157.0" y="620.4" font-size="7.5" fill="#9898d8">ERG1</text>
<text stroke="#3a78c0" stroke-width="0.22" x="206.0" y="613.1" font-size="7.5" fill="#3a78c0">MTFR1</text>
<circle cx="96.4" cy="602.3" r="2.5" fill="#f6dac7" fill-opacity="1.0" stroke="#e07b39" stroke-width="1.1"/>
<circle cx="98.3" cy="609.6" r="2.5" fill="#c3daeb" fill-opacity="1.0" stroke="#2b7bba" stroke-width="1.1"/>
<circle cx="118.3" cy="601.3" r="2.8" fill="#bee2d5" fill-opacity="1.0" stroke="#1a9a6c" stroke-width="1.1"/>
<circle cx="126.4" cy="609.6" r="2.5" fill="#e6e6f8" fill-opacity="1.0" stroke="#a8a8e8" stroke-width="1.1"/>
<circle cx="133.7" cy="611.8" r="3.0" fill="#e6e6f8" fill-opacity="1.0" stroke="#a8a8e8" stroke-width="1.1"/>
<circle cx="139.1" cy="609.6" r="2.5" fill="#f1d6ed" fill-opacity="1.0" stroke="#d070c0" stroke-width="1.1"/>
<circle cx="126.4" cy="614.3" r="2.5" fill="#f8e4c5" fill-opacity="1.0" stroke="#e8a030" stroke-width="1.1"/>
<circle cx="153.8" cy="609.6" r="2.0" fill="#fcf3d6" fill-opacity="1.0" stroke="#f5d76e" stroke-width="1.1"/>
<circle cx="181.2" cy="616.9" r="1.8" fill="#f8e4c5" fill-opacity="1.0" stroke="#e8a030" stroke-width="1.1"/>
<circle cx="208.6" cy="594.7" r="3.7" fill="#f8e6c7" fill-opacity="1.0" stroke="#e8a838" stroke-width="1.1"/>
<circle cx="235.7" cy="602.8" r="2.8" fill="#f1dfed" fill-opacity="1.0" stroke="#d090c0" stroke-width="1.1"/>
<circle cx="242.5" cy="615.5" r="3.0" fill="#efc2c8" fill-opacity="1.0" stroke="#c8283c" stroke-width="1.1"/>
<circle cx="275.7" cy="614.5" r="2.5" fill="#f4c7cc" fill-opacity="1.0" stroke="#d83a4a" stroke-width="1.1"/>
<circle cx="281.9" cy="614.5" r="2.0" fill="#c1e6d9" fill-opacity="1.0" stroke="#22a878" stroke-width="1.1"/>
<circle cx="298.5" cy="615.2" r="2.5" fill="#c3d5e8" fill-opacity="1.0" stroke="#2a6ab0" stroke-width="1.1"/>
<circle cx="291.6" cy="618.0" r="4.9" fill="#f6e8c5" fill-opacity="1.0" stroke="#e0b030" stroke-width="1.1"/>
<circle cx="324.9" cy="594.1" r="2.5" fill="#f8e6c2" fill-opacity="1.0" stroke="#e8a828" stroke-width="1.1"/>
<circle cx="324.9" cy="614.5" r="1.8" fill="#ddebf8" fill-opacity="1.0" stroke="#88b8e8" stroke-width="1.1"/>
<circle cx="202" cy="611.8" r="1.6" fill="#44c444"/>
<circle cx="219.1" cy="615.9" r="1.5" fill="#2a5aa0"/>
<circle cx="308.5" cy="609.9" r="1.2" fill="#f0a060"/>
<circle cx="253.9" cy="619.3" r="1.3" fill="#c82828"/>
<rect x="75.8" y="398.8" width="266.7" height="238.2" fill="none" stroke="#111" stroke-width="1.4"/>
<line x1="417.7" y1="579.32" x2="684.4" y2="579.32" stroke="#d8d8d8" stroke-width="0.9"/>
<line x1="417.7" y1="530.24" x2="684.4" y2="530.24" stroke="#d8d8d8" stroke-width="0.9"/>
<line x1="417.7" y1="481.16" x2="684.4" y2="481.16" stroke="#d8d8d8" stroke-width="0.9"/>
<line x1="417.7" y1="432.08" x2="684.4" y2="432.08" stroke="#d8d8d8" stroke-width="0.9"/>
<line x1="412.7" y1="628.40" x2="417.7" y2="628.40" stroke="#222" stroke-width="1.2"/>
<text stroke="#111111" stroke-width="0.22" x="407.5" y="633.00" font-size="13" text-anchor="end" fill="#111111">0</text>
<line x1="412.7" y1="567.05" x2="417.7" y2="567.05" stroke="#222" stroke-width="1.2"/>
<text stroke="#111111" stroke-width="0.22" x="407.5" y="571.65" font-size="13" text-anchor="end" fill="#111111">5</text>
<line x1="412.7" y1="505.70" x2="417.7" y2="505.70" stroke="#222" stroke-width="1.2"/>
<text stroke="#111111" stroke-width="0.22" x="407.5" y="510.30" font-size="13" text-anchor="end" fill="#111111">10</text>
<line x1="412.7" y1="444.35" x2="417.7" y2="444.35" stroke="#222" stroke-width="1.2"/>
<text stroke="#111111" stroke-width="0.22" x="407.5" y="448.95" font-size="13" text-anchor="end" fill="#111111">15</text>
<text stroke="#111111" stroke-width="0.22" x="551.0" y="388.8" font-size="13" text-anchor="middle" fill="#111111">MSI</text>
<text stroke="#111111" stroke-width="0.22" transform="translate(382.9,519.1) rotate(-90)" font-size="13" text-anchor="middle" fill="#111111">Mutation <tspan font-style="italic">q</tspan>-score</text>
<circle cx="544.0" cy="628.4" r="1.2" fill="#b3b3e7" stroke="#9a9ae0" stroke-width="0.8"/>
<circle cx="664.5" cy="629.8" r="1.4" fill="#8799ab" stroke="#607890" stroke-width="0.8"/>
<circle cx="545.8" cy="626.7" r="1.6" fill="#9b77c3" stroke="#7a4ab0" stroke-width="0.8"/>
<circle cx="499.8" cy="624.8" r="1.2" fill="#9b77c3" stroke="#7a4ab0" stroke-width="0.8"/>
<circle cx="643.5" cy="626.4" r="1.4" fill="#f39f6f" stroke="#f08040" stroke-width="0.8"/>
<circle cx="572.6" cy="626.1" r="1.4" fill="#edb75d" stroke="#e8a028" stroke-width="0.8"/>
<circle cx="523.5" cy="624.6" r="1.4" fill="#db93c3" stroke="#d070b0" stroke-width="0.8"/>
<circle cx="497.5" cy="628.2" r="1.2" fill="#9b77c3" stroke="#7a4ab0" stroke-width="0.8"/>
<circle cx="492.5" cy="624.6" r="1.2" fill="#f39f6f" stroke="#f08040" stroke-width="0.8"/>
<circle cx="634.5" cy="627.3" r="2.0" fill="#6cc66c" stroke="#3cb43c" stroke-width="0.8"/>
<circle cx="495.2" cy="628.0" r="2.2" fill="#6b6bcf" stroke="#3a3ac0" stroke-width="0.8"/>
<circle cx="513.4" cy="624.2" r="1.2" fill="#53a7a7" stroke="#1a8a8a" stroke-width="0.8"/>
<circle cx="564.9" cy="626.7" r="2.2" fill="#db6f6f" stroke="#d04040" stroke-width="0.8"/>
<circle cx="504.1" cy="625.4" r="1.2" fill="#edb75d" stroke="#e8a028" stroke-width="0.8"/>
<circle cx="542.9" cy="626.7" r="1.2" fill="#edb75d" stroke="#e8a028" stroke-width="0.8"/>
<circle cx="541.5" cy="627.5" r="1.2" fill="#53a7a7" stroke="#1a8a8a" stroke-width="0.8"/>
<circle cx="627.8" cy="626.6" r="2.0" fill="#b79f7b" stroke="#a08050" stroke-width="0.8"/>
<circle cx="650.3" cy="625.3" r="2.0" fill="#9b77c3" stroke="#7a4ab0" stroke-width="0.8"/>
<circle cx="545.7" cy="625.6" r="1.4" fill="#609ccb" stroke="#2b7bba" stroke-width="0.8"/>
<circle cx="472.0" cy="625.9" r="2.2" fill="#f39f6f" stroke="#f08040" stroke-width="0.8"/>
<circle cx="517.3" cy="625.0" r="2.0" fill="#6cc66c" stroke="#3cb43c" stroke-width="0.8"/>
<circle cx="488.3" cy="625.8" r="1.8" fill="#b3b3e7" stroke="#9a9ae0" stroke-width="0.8"/>
<circle cx="642.7" cy="625.2" r="1.2" fill="#6cc66c" stroke="#3cb43c" stroke-width="0.8"/>
<circle cx="505.6" cy="627.6" r="1.2" fill="#b3b3e7" stroke="#9a9ae0" stroke-width="0.8"/>
<circle cx="496.9" cy="625.9" r="1.4" fill="#6b6bcf" stroke="#3a3ac0" stroke-width="0.8"/>
<circle cx="573.1" cy="626.0" r="1.4" fill="#e79c6a" stroke="#e07b39" stroke-width="0.8"/>
<circle cx="657.4" cy="626.3" r="1.8" fill="#6cc66c" stroke="#3cb43c" stroke-width="0.8"/>
<circle cx="490.2" cy="627.1" r="1.2" fill="#9b77c3" stroke="#7a4ab0" stroke-width="0.8"/>
<circle cx="477.0" cy="626.7" r="1.2" fill="#59b7ab" stroke="#22a090" stroke-width="0.8"/>
<circle cx="565.8" cy="627.0" r="2.2" fill="#db93c3" stroke="#d070b0" stroke-width="0.8"/>
<circle cx="548.2" cy="628.2" r="2.0" fill="#edb75d" stroke="#e8a028" stroke-width="0.8"/>
<circle cx="656.6" cy="623.8" r="2.2" fill="#609ccb" stroke="#2b7bba" stroke-width="0.8"/>
<circle cx="491.0" cy="624.4" r="2.2" fill="#b79f7b" stroke="#a08050" stroke-width="0.8"/>
<circle cx="524.9" cy="625.6" r="1.8" fill="#6fb36f" stroke="#409a40" stroke-width="0.8"/>
<circle cx="519.4" cy="626.6" r="1.4" fill="#59b7ab" stroke="#22a090" stroke-width="0.8"/>
<circle cx="661.5" cy="628.8" r="1.6" fill="#59b7ab" stroke="#22a090" stroke-width="0.8"/>
<circle cx="651.8" cy="628.8" r="1.2" fill="#e79c6a" stroke="#e07b39" stroke-width="0.8"/>
<circle cx="622.8" cy="624.8" r="2.2" fill="#6b6bcf" stroke="#3a3ac0" stroke-width="0.8"/>
<circle cx="440.9" cy="627.9" r="1.4" fill="#f39f6f" stroke="#f08040" stroke-width="0.8"/>
<circle cx="573.9" cy="628.4" r="1.8" fill="#6387c3" stroke="#3060b0" stroke-width="0.8"/>
<circle cx="544.2" cy="625.4" r="1.6" fill="#6b6bcf" stroke="#3a3ac0" stroke-width="0.8"/>
<circle cx="521.5" cy="627.5" r="1.8" fill="#db6f6f" stroke="#d04040" stroke-width="0.8"/>
<circle cx="628.1" cy="629.1" r="1.8" fill="#d55d6c" stroke="#c8283c" stroke-width="0.8"/>
<circle cx="625.9" cy="624.8" r="1.4" fill="#db6f6f" stroke="#d04040" stroke-width="0.8"/>
<circle cx="446.4" cy="625.3" r="2.2" fill="#6cc66c" stroke="#3cb43c" stroke-width="0.8"/>
<circle cx="620.8" cy="625.4" r="1.2" fill="#edb75d" stroke="#e8a028" stroke-width="0.8"/>
<circle cx="636.7" cy="625.3" r="1.6" fill="#9b77c3" stroke="#7a4ab0" stroke-width="0.8"/>
<circle cx="631.9" cy="625.2" r="1.8" fill="#6387c3" stroke="#3060b0" stroke-width="0.8"/>
<circle cx="583.4" cy="627.1" r="1.2" fill="#6fb36f" stroke="#409a40" stroke-width="0.8"/>
<circle cx="604.7" cy="627.2" r="2.0" fill="#6cc66c" stroke="#3cb43c" stroke-width="0.8"/>
<circle cx="536.3" cy="627.3" r="1.4" fill="#6cc66c" stroke="#3cb43c" stroke-width="0.8"/>
<circle cx="433.3" cy="627.7" r="2.0" fill="#f39f6f" stroke="#f08040" stroke-width="0.8"/>
<circle cx="510.3" cy="627.3" r="1.6" fill="#db93c3" stroke="#d070b0" stroke-width="0.8"/>
<circle cx="651.9" cy="627.9" r="1.2" fill="#6cc66c" stroke="#3cb43c" stroke-width="0.8"/>
<circle cx="670.7" cy="629.4" r="2.2" fill="#d55d6c" stroke="#c8283c" stroke-width="0.8"/>
<circle cx="566.4" cy="627.5" r="1.6" fill="#6387c3" stroke="#3060b0" stroke-width="0.8"/>
<circle cx="491.2" cy="626.8" r="1.6" fill="#db6f6f" stroke="#d04040" stroke-width="0.8"/>
<circle cx="657.3" cy="627.8" r="1.2" fill="#edb75d" stroke="#e8a028" stroke-width="0.8"/>
<circle cx="499.1" cy="626.8" r="2.2" fill="#f39f6f" stroke="#f08040" stroke-width="0.8"/>
<circle cx="462.9" cy="626.1" r="2.2" fill="#53b390" stroke="#1a9a6c" stroke-width="0.8"/>
<circle cx="537.1" cy="624.6" r="1.8" fill="#53b390" stroke="#1a9a6c" stroke-width="0.8"/>
<circle cx="623.6" cy="626.3" r="2.0" fill="#f39f6f" stroke="#f08040" stroke-width="0.8"/>
<circle cx="473.3" cy="623.4" r="1.4" fill="#e79c6a" stroke="#e07b39" stroke-width="0.8"/>
<circle cx="569.3" cy="627.7" r="1.4" fill="#6fb36f" stroke="#409a40" stroke-width="0.8"/>
<circle cx="556.9" cy="626.5" r="2.0" fill="#609ccb" stroke="#2b7bba" stroke-width="0.8"/>
<circle cx="633.4" cy="627.3" r="2.0" fill="#6b6bcf" stroke="#3a3ac0" stroke-width="0.8"/>
<circle cx="616.6" cy="626.8" r="2.2" fill="#d55d6c" stroke="#c8283c" stroke-width="0.8"/>
<circle cx="572.2" cy="627.1" r="1.4" fill="#53b390" stroke="#1a9a6c" stroke-width="0.8"/>
<circle cx="443.4" cy="626.2" r="2.2" fill="#59b7ab" stroke="#22a090" stroke-width="0.8"/>
<circle cx="556.1" cy="624.9" r="1.6" fill="#9b77c3" stroke="#7a4ab0" stroke-width="0.8"/>
<circle cx="497.2" cy="624.1" r="1.2" fill="#53b390" stroke="#1a9a6c" stroke-width="0.8"/>
<circle cx="529.0" cy="623.6" r="1.8" fill="#6cc66c" stroke="#3cb43c" stroke-width="0.8"/>
<circle cx="644.1" cy="626.3" r="1.6" fill="#59b7ab" stroke="#22a090" stroke-width="0.8"/>
<circle cx="467.7" cy="627.4" r="1.6" fill="#53b390" stroke="#1a9a6c" stroke-width="0.8"/>
<circle cx="515.7" cy="630.0" r="1.2" fill="#6387c3" stroke="#3060b0" stroke-width="0.8"/>
<circle cx="515.8" cy="624.8" r="1.4" fill="#9b77c3" stroke="#7a4ab0" stroke-width="0.8"/>
<circle cx="621.0" cy="627.7" r="1.2" fill="#f39f6f" stroke="#f08040" stroke-width="0.8"/>
<circle cx="644.3" cy="625.0" r="2.2" fill="#6b6bcf" stroke="#3a3ac0" stroke-width="0.8"/>
<circle cx="538.2" cy="629.1" r="1.4" fill="#53b390" stroke="#1a9a6c" stroke-width="0.8"/>
<circle cx="487.6" cy="626.8" r="1.2" fill="#db6f6f" stroke="#d04040" stroke-width="0.8"/>
<circle cx="581.2" cy="627.0" r="2.0" fill="#53b390" stroke="#1a9a6c" stroke-width="0.8"/>
<circle cx="431.8" cy="627.5" r="2.2" fill="#d55d6c" stroke="#c8283c" stroke-width="0.8"/>
<circle cx="492.1" cy="627.5" r="1.8" fill="#b79f7b" stroke="#a08050" stroke-width="0.8"/>
<circle cx="486.4" cy="624.6" r="1.8" fill="#6387c3" stroke="#3060b0" stroke-width="0.8"/>
<circle cx="514.3" cy="627.2" r="1.6" fill="#6387c3" stroke="#3060b0" stroke-width="0.8"/>
<circle cx="542.7" cy="626.9" r="2.0" fill="#b79f7b" stroke="#a08050" stroke-width="0.8"/>
<circle cx="616.6" cy="627.0" r="1.4" fill="#53a7a7" stroke="#1a8a8a" stroke-width="0.8"/>
<circle cx="574.4" cy="626.9" r="1.4" fill="#6cc66c" stroke="#3cb43c" stroke-width="0.8"/>
<circle cx="593.5" cy="624.9" r="1.2" fill="#edb75d" stroke="#e8a028" stroke-width="0.8"/>
<circle cx="599.8" cy="626.8" r="2.0" fill="#b79f7b" stroke="#a08050" stroke-width="0.8"/>
<circle cx="436.0" cy="626.9" r="1.6" fill="#9b77c3" stroke="#7a4ab0" stroke-width="0.8"/>
<circle cx="526.8" cy="626.3" r="1.6" fill="#8799ab" stroke="#607890" stroke-width="0.8"/>
<circle cx="636.9" cy="622.8" r="1.6" fill="#edb75d" stroke="#e8a028" stroke-width="0.8"/>
<circle cx="638.1" cy="624.7" r="1.2" fill="#9b77c3" stroke="#7a4ab0" stroke-width="0.8"/>
<circle cx="555.8" cy="629.8" r="1.4" fill="#8799ab" stroke="#607890" stroke-width="0.8"/>
<circle cx="592.1" cy="625.5" r="1.2" fill="#b3b3e7" stroke="#9a9ae0" stroke-width="0.8"/>
<circle cx="454.1" cy="626.9" r="1.4" fill="#b79f7b" stroke="#a08050" stroke-width="0.8"/>
<circle cx="593.6" cy="627.6" r="1.4" fill="#6cc66c" stroke="#3cb43c" stroke-width="0.8"/>
<circle cx="531.8" cy="622.8" r="1.8" fill="#59b7ab" stroke="#22a090" stroke-width="0.8"/>
<circle cx="628.5" cy="629.5" r="1.2" fill="#59b7ab" stroke="#22a090" stroke-width="0.8"/>
<circle cx="642.5" cy="624.0" r="2.0" fill="#e79c6a" stroke="#e07b39" stroke-width="0.8"/>
<circle cx="583.4" cy="624.1" r="1.2" fill="#6387c3" stroke="#3060b0" stroke-width="0.8"/>
<circle cx="489.4" cy="624.8" r="1.2" fill="#f39f6f" stroke="#f08040" stroke-width="0.8"/>
<circle cx="455.1" cy="626.2" r="1.6" fill="#6fb36f" stroke="#409a40" stroke-width="0.8"/>
<circle cx="457.0" cy="623.3" r="2.0" fill="#e79c6a" stroke="#e07b39" stroke-width="0.8"/>
<circle cx="448.0" cy="624.3" r="2.0" fill="#53a7a7" stroke="#1a8a8a" stroke-width="0.8"/>
<circle cx="659.0" cy="624.7" r="1.6" fill="#8799ab" stroke="#607890" stroke-width="0.8"/>
<circle cx="570.8" cy="627.1" r="1.6" fill="#db6f6f" stroke="#d04040" stroke-width="0.8"/>
<circle cx="610.2" cy="626.3" r="1.8" fill="#db6f6f" stroke="#d04040" stroke-width="0.8"/>
<circle cx="588.9" cy="625.2" r="1.4" fill="#53a7a7" stroke="#1a8a8a" stroke-width="0.8"/>
<circle cx="603.9" cy="624.6" r="2.0" fill="#6b6bcf" stroke="#3a3ac0" stroke-width="0.8"/>
<circle cx="543.8" cy="626.9" r="1.6" fill="#53b390" stroke="#1a9a6c" stroke-width="0.8"/>
<circle cx="487.3" cy="626.7" r="1.8" fill="#edb75d" stroke="#e8a028" stroke-width="0.8"/>
<circle cx="430.0" cy="628.2" r="1.6" fill="#6fb36f" stroke="#409a40" stroke-width="0.8"/>
<circle cx="641.6" cy="626.5" r="1.8" fill="#e79c6a" stroke="#e07b39" stroke-width="0.8"/>
<circle cx="497.9" cy="628.3" r="1.4" fill="#f39f6f" stroke="#f08040" stroke-width="0.8"/>
<circle cx="441.2" cy="628.3" r="2.0" fill="#b3b3e7" stroke="#9a9ae0" stroke-width="0.8"/>
<circle cx="536.6" cy="626.7" r="1.2" fill="#b79f7b" stroke="#a08050" stroke-width="0.8"/>
<circle cx="523.6" cy="624.1" r="1.2" fill="#b79f7b" stroke="#a08050" stroke-width="0.8"/>
<circle cx="483.1" cy="627.3" r="2.2" fill="#6cc66c" stroke="#3cb43c" stroke-width="0.8"/>
<circle cx="530.8" cy="626.0" r="1.4" fill="#e79c6a" stroke="#e07b39" stroke-width="0.8"/>
<circle cx="631.5" cy="625.7" r="2.0" fill="#6387c3" stroke="#3060b0" stroke-width="0.8"/>
<circle cx="611.0" cy="626.3" r="1.8" fill="#e79c6a" stroke="#e07b39" stroke-width="0.8"/>
<circle cx="622.5" cy="623.9" r="2.2" fill="#6cc66c" stroke="#3cb43c" stroke-width="0.8"/>
<circle cx="529.8" cy="627.6" r="2.0" fill="#6387c3" stroke="#3060b0" stroke-width="0.8"/>
<circle cx="551.0" cy="627.3" r="2.0" fill="#6cc66c" stroke="#3cb43c" stroke-width="0.8"/>
<circle cx="531.1" cy="627.0" r="2.0" fill="#6387c3" stroke="#3060b0" stroke-width="0.8"/>
<circle cx="521.5" cy="623.4" r="1.8" fill="#db93c3" stroke="#d070b0" stroke-width="0.8"/>
<circle cx="498.7" cy="625.6" r="2.0" fill="#53a7a7" stroke="#1a8a8a" stroke-width="0.8"/>
<circle cx="575.3" cy="627.5" r="2.2" fill="#9b77c3" stroke="#7a4ab0" stroke-width="0.8"/>
<circle cx="428.7" cy="626.3" r="1.8" fill="#db93c3" stroke="#d070b0" stroke-width="0.8"/>
<circle cx="501.7" cy="622.8" r="2.0" fill="#f39f6f" stroke="#f08040" stroke-width="0.8"/>
<circle cx="626.9" cy="625.1" r="1.4" fill="#609ccb" stroke="#2b7bba" stroke-width="0.8"/>
<circle cx="631.6" cy="627.0" r="1.6" fill="#9b77c3" stroke="#7a4ab0" stroke-width="0.8"/>
<circle cx="668.3" cy="625.5" r="1.6" fill="#d55d6c" stroke="#c8283c" stroke-width="0.8"/>
<circle cx="669.1" cy="625.7" r="1.2" fill="#53b390" stroke="#1a9a6c" stroke-width="0.8"/>
<circle cx="438.8" cy="624.8" r="2.0" fill="#f39f6f" stroke="#f08040" stroke-width="0.8"/>
<circle cx="561.1" cy="625.7" r="1.8" fill="#b79f7b" stroke="#a08050" stroke-width="0.8"/>
<circle cx="632.6" cy="626.2" r="1.8" fill="#b3b3e7" stroke="#9a9ae0" stroke-width="0.8"/>
<circle cx="437.1" cy="624.8" r="2.2" fill="#b3b3e7" stroke="#9a9ae0" stroke-width="0.8"/>
<circle cx="539.8" cy="627.0" r="1.4" fill="#6387c3" stroke="#3060b0" stroke-width="0.8"/>
<circle cx="529.0" cy="626.4" r="2.0" fill="#edb75d" stroke="#e8a028" stroke-width="0.8"/>
<circle cx="588.5" cy="627.2" r="1.4" fill="#8799ab" stroke="#607890" stroke-width="0.8"/>
<circle cx="548.2" cy="626.0" r="1.8" fill="#9b77c3" stroke="#7a4ab0" stroke-width="0.8"/>
<circle cx="599.2" cy="626.4" r="1.6" fill="#9b77c3" stroke="#7a4ab0" stroke-width="0.8"/>
<circle cx="518.3" cy="625.7" r="1.2" fill="#f39f6f" stroke="#f08040" stroke-width="0.8"/>
<circle cx="554.6" cy="628.8" r="2.2" fill="#9b77c3" stroke="#7a4ab0" stroke-width="0.8"/>
<circle cx="631.3" cy="628.4" r="2.0" fill="#8799ab" stroke="#607890" stroke-width="0.8"/>
<circle cx="584.1" cy="623.7" r="1.4" fill="#b79f7b" stroke="#a08050" stroke-width="0.8"/>
<circle cx="649.4" cy="626.0" r="1.8" fill="#6fb36f" stroke="#409a40" stroke-width="0.8"/>
<circle cx="442.0" cy="625.7" r="2.0" fill="#59b7ab" stroke="#22a090" stroke-width="0.8"/>
<circle cx="599.2" cy="626.1" r="1.2" fill="#53b390" stroke="#1a9a6c" stroke-width="0.8"/>
<circle cx="503.4" cy="626.4" r="1.6" fill="#edb75d" stroke="#e8a028" stroke-width="0.8"/>
<circle cx="636.7" cy="626.3" r="2.0" fill="#53b390" stroke="#1a9a6c" stroke-width="0.8"/>
<circle cx="593.4" cy="627.0" r="2.0" fill="#e79c6a" stroke="#e07b39" stroke-width="0.8"/>
<circle cx="643.9" cy="628.1" r="2.0" fill="#b79f7b" stroke="#a08050" stroke-width="0.8"/>
<circle cx="675.3" cy="625.0" r="1.2" fill="#6cc66c" stroke="#3cb43c" stroke-width="0.8"/>
<circle cx="466.0" cy="625.7" r="2.0" fill="#6387c3" stroke="#3060b0" stroke-width="0.8"/>
<circle cx="434.2" cy="629.6" r="1.8" fill="#db93c3" stroke="#d070b0" stroke-width="0.8"/>
<circle cx="579.6" cy="628.1" r="1.2" fill="#53b390" stroke="#1a9a6c" stroke-width="0.8"/>
<circle cx="597.5" cy="625.7" r="1.4" fill="#b3b3e7" stroke="#9a9ae0" stroke-width="0.8"/>
<circle cx="495.6" cy="626.0" r="1.2" fill="#e79c6a" stroke="#e07b39" stroke-width="0.8"/>
<circle cx="583.5" cy="628.7" r="1.2" fill="#b3b3e7" stroke="#9a9ae0" stroke-width="0.8"/>
<circle cx="474.7" cy="623.6" r="2.0" fill="#edb75d" stroke="#e8a028" stroke-width="0.8"/>
<circle cx="431.9" cy="626.7" r="1.2" fill="#db93c3" stroke="#d070b0" stroke-width="0.8"/>
<circle cx="440.6" cy="627.9" r="1.4" fill="#db6f6f" stroke="#d04040" stroke-width="0.8"/>
<circle cx="482.5" cy="627.5" r="1.4" fill="#9b77c3" stroke="#7a4ab0" stroke-width="0.8"/>
<circle cx="428.5" cy="628.1" r="1.8" fill="#f39f6f" stroke="#f08040" stroke-width="0.8"/>
<circle cx="531.2" cy="626.4" r="1.2" fill="#db6f6f" stroke="#d04040" stroke-width="0.8"/>
<circle cx="595.6" cy="629.5" r="2.2" fill="#db6f6f" stroke="#d04040" stroke-width="0.8"/>
<circle cx="530.0" cy="624.5" r="1.2" fill="#db6f6f" stroke="#d04040" stroke-width="0.8"/>
<circle cx="448.8" cy="627.8" r="1.4" fill="#b3b3e7" stroke="#9a9ae0" stroke-width="0.8"/>
<circle cx="521.4" cy="629.5" r="1.8" fill="#53a7a7" stroke="#1a8a8a" stroke-width="0.8"/>
<circle cx="517.4" cy="626.5" r="1.6" fill="#53a7a7" stroke="#1a8a8a" stroke-width="0.8"/>
<circle cx="644.0" cy="625.3" r="1.2" fill="#8799ab" stroke="#607890" stroke-width="0.8"/>
<circle cx="632.6" cy="628.3" r="1.6" fill="#53a7a7" stroke="#1a8a8a" stroke-width="0.8"/>
<circle cx="488.0" cy="626.8" r="1.4" fill="#8799ab" stroke="#607890" stroke-width="0.8"/>
<circle cx="435.7" cy="627.5" r="2.2" fill="#53b390" stroke="#1a9a6c" stroke-width="0.8"/>
<circle cx="512.0" cy="627.7" r="1.2" fill="#d55d6c" stroke="#c8283c" stroke-width="0.8"/>
<circle cx="494.1" cy="628.3" r="1.4" fill="#53a7a7" stroke="#1a8a8a" stroke-width="0.8"/>
<circle cx="537.4" cy="627.8" r="1.4" fill="#b3b3e7" stroke="#9a9ae0" stroke-width="0.8"/>
<circle cx="514.9" cy="624.1" r="2.2" fill="#edb75d" stroke="#e8a028" stroke-width="0.8"/>
<circle cx="520.8" cy="627.4" r="1.8" fill="#b79f7b" stroke="#a08050" stroke-width="0.8"/>
<circle cx="477.9" cy="626.1" r="1.8" fill="#6cc66c" stroke="#3cb43c" stroke-width="0.8"/>
<circle cx="661.6" cy="628.4" r="1.8" fill="#b3b3e7" stroke="#9a9ae0" stroke-width="0.8"/>
<circle cx="560.1" cy="626.4" r="1.8" fill="#b79f7b" stroke="#a08050" stroke-width="0.8"/>
<circle cx="479.9" cy="626.9" r="2.0" fill="#609ccb" stroke="#2b7bba" stroke-width="0.8"/>
<circle cx="562.1" cy="625.8" r="1.6" fill="#edb75d" stroke="#e8a028" stroke-width="0.8"/>
<circle cx="434.2" cy="626.2" r="1.2" fill="#edb75d" stroke="#e8a028" stroke-width="0.8"/>
<circle cx="604.0" cy="625.6" r="2.2" fill="#6fb36f" stroke="#409a40" stroke-width="0.8"/>
<circle cx="620.3" cy="626.5" r="1.2" fill="#609ccb" stroke="#2b7bba" stroke-width="0.8"/>
<circle cx="566.9" cy="627.4" r="1.6" fill="#b79f7b" stroke="#a08050" stroke-width="0.8"/>
<circle cx="615.9" cy="627.2" r="1.2" fill="#db6f6f" stroke="#d04040" stroke-width="0.8"/>
<circle cx="498.9" cy="628.6" r="2.2" fill="#edb75d" stroke="#e8a028" stroke-width="0.8"/>
<circle cx="497.3" cy="623.7" r="2.2" fill="#6cc66c" stroke="#3cb43c" stroke-width="0.8"/>
<circle cx="660.2" cy="628.3" r="1.4" fill="#53b390" stroke="#1a9a6c" stroke-width="0.8"/>
<circle cx="518.3" cy="627.1" r="1.8" fill="#53b390" stroke="#1a9a6c" stroke-width="0.8"/>
<circle cx="591.1" cy="624.2" r="2.2" fill="#db93c3" stroke="#d070b0" stroke-width="0.8"/>
<circle cx="488.9" cy="627.2" r="2.2" fill="#6387c3" stroke="#3060b0" stroke-width="0.8"/>
<circle cx="472.2" cy="625.3" r="1.2" fill="#e79c6a" stroke="#e07b39" stroke-width="0.8"/>
<circle cx="654.3" cy="626.2" r="1.2" fill="#edb75d" stroke="#e8a028" stroke-width="0.8"/>
<circle cx="437.0" cy="624.0" r="1.4" fill="#8799ab" stroke="#607890" stroke-width="0.8"/>
<circle cx="476.3" cy="625.9" r="1.2" fill="#53a7a7" stroke="#1a8a8a" stroke-width="0.8"/>
<circle cx="504.4" cy="627.8" r="2.2" fill="#6fb36f" stroke="#409a40" stroke-width="0.8"/>
<circle cx="567.6" cy="626.6" r="2.0" fill="#e79c6a" stroke="#e07b39" stroke-width="0.8"/>
<circle cx="657.5" cy="628.1" r="2.2" fill="#b3b3e7" stroke="#9a9ae0" stroke-width="0.8"/>
<circle cx="660.0" cy="628.3" r="2.2" fill="#f39f6f" stroke="#f08040" stroke-width="0.8"/>
<circle cx="651.4" cy="628.0" r="2.0" fill="#59b7ab" stroke="#22a090" stroke-width="0.8"/>
<circle cx="669.6" cy="626.2" r="1.6" fill="#d55d6c" stroke="#c8283c" stroke-width="0.8"/>
<circle cx="620.5" cy="626.0" r="1.6" fill="#609ccb" stroke="#2b7bba" stroke-width="0.8"/>
<circle cx="530.9" cy="626.2" r="2.0" fill="#db6f6f" stroke="#d04040" stroke-width="0.8"/>
<circle cx="497.0" cy="622.8" r="1.2" fill="#b3b3e7" stroke="#9a9ae0" stroke-width="0.8"/>
<circle cx="662.6" cy="623.3" r="2.2" fill="#b79f7b" stroke="#a08050" stroke-width="0.8"/>
<circle cx="610.9" cy="628.0" r="2.2" fill="#db93c3" stroke="#d070b0" stroke-width="0.8"/>
<circle cx="553.7" cy="625.9" r="2.2" fill="#b79f7b" stroke="#a08050" stroke-width="0.8"/>
<circle cx="637.8" cy="625.5" r="1.4" fill="#6b6bcf" stroke="#3a3ac0" stroke-width="0.8"/>
<circle cx="616.7" cy="628.6" r="2.0" fill="#e79c6a" stroke="#e07b39" stroke-width="0.8"/>
<circle cx="470.5" cy="627.0" r="1.4" fill="#db6f6f" stroke="#d04040" stroke-width="0.8"/>
<circle cx="562.4" cy="626.4" r="1.6" fill="#b3b3e7" stroke="#9a9ae0" stroke-width="0.8"/>
<circle cx="529.5" cy="626.9" r="1.4" fill="#f39f6f" stroke="#f08040" stroke-width="0.8"/>
<circle cx="461.2" cy="625.7" r="1.8" fill="#db6f6f" stroke="#d04040" stroke-width="0.8"/>
<circle cx="602.7" cy="624.8" r="1.2" fill="#b79f7b" stroke="#a08050" stroke-width="0.8"/>
<circle cx="599.2" cy="627.8" r="2.2" fill="#f39f6f" stroke="#f08040" stroke-width="0.8"/>
<circle cx="460.2" cy="628.0" r="2.2" fill="#6cc66c" stroke="#3cb43c" stroke-width="0.8"/>
<circle cx="573.3" cy="626.5" r="1.2" fill="#53a7a7" stroke="#1a8a8a" stroke-width="0.8"/>
<circle cx="532.7" cy="628.5" r="1.4" fill="#6cc66c" stroke="#3cb43c" stroke-width="0.8"/>
<circle cx="576.1" cy="623.9" r="1.4" fill="#6387c3" stroke="#3060b0" stroke-width="0.8"/>
<circle cx="598.8" cy="627.0" r="1.2" fill="#b3b3e7" stroke="#9a9ae0" stroke-width="0.8"/>
<circle cx="548.2" cy="629.5" r="1.6" fill="#d55d6c" stroke="#c8283c" stroke-width="0.8"/>
<circle cx="454.5" cy="627.3" r="1.6" fill="#db93c3" stroke="#d070b0" stroke-width="0.8"/>
<circle cx="666.8" cy="627.3" r="2.0" fill="#b3b3e7" stroke="#9a9ae0" stroke-width="0.8"/>
<circle cx="499.1" cy="627.8" r="2.0" fill="#609ccb" stroke="#2b7bba" stroke-width="0.8"/>
<circle cx="438.3" cy="622.8" r="1.8" fill="#609ccb" stroke="#2b7bba" stroke-width="0.8"/>
<circle cx="613.1" cy="627.2" r="1.6" fill="#e79c6a" stroke="#e07b39" stroke-width="0.8"/>
<circle cx="454.1" cy="624.8" r="1.4" fill="#53a7a7" stroke="#1a8a8a" stroke-width="0.8"/>
<circle cx="507.1" cy="626.5" r="1.6" fill="#609ccb" stroke="#2b7bba" stroke-width="0.8"/>
<circle cx="587.5" cy="624.0" r="2.2" fill="#e79c6a" stroke="#e07b39" stroke-width="0.8"/>
<circle cx="589.6" cy="623.9" r="1.2" fill="#6cc66c" stroke="#3cb43c" stroke-width="0.8"/>
<circle cx="613.1" cy="627.9" r="1.4" fill="#f39f6f" stroke="#f08040" stroke-width="0.8"/>
<circle cx="518.6" cy="626.6" r="2.2" fill="#b79f7b" stroke="#a08050" stroke-width="0.8"/>
<circle cx="637.6" cy="627.2" r="2.2" fill="#f39f6f" stroke="#f08040" stroke-width="0.8"/>
<circle cx="611.8" cy="626.0" r="1.6" fill="#edb75d" stroke="#e8a028" stroke-width="0.8"/>
<circle cx="473.0" cy="627.0" r="1.6" fill="#6cc66c" stroke="#3cb43c" stroke-width="0.8"/>
<circle cx="564.2" cy="625.2" r="1.6" fill="#e79c6a" stroke="#e07b39" stroke-width="0.8"/>
<circle cx="486.6" cy="628.3" r="2.2" fill="#edb75d" stroke="#e8a028" stroke-width="0.8"/>
<circle cx="652.4" cy="626.9" r="1.4" fill="#6b6bcf" stroke="#3a3ac0" stroke-width="0.8"/>
<circle cx="532.3" cy="625.8" r="2.0" fill="#609ccb" stroke="#2b7bba" stroke-width="0.8"/>
<circle cx="462.3" cy="622.8" r="1.4" fill="#6fb36f" stroke="#409a40" stroke-width="0.8"/>
<circle cx="461.4" cy="625.4" r="1.2" fill="#db93c3" stroke="#d070b0" stroke-width="0.8"/>
<circle cx="546.4" cy="625.2" r="1.4" fill="#b3b3e7" stroke="#9a9ae0" stroke-width="0.8"/>
<circle cx="427.7" cy="628.0" r="2.0" fill="#8799ab" stroke="#607890" stroke-width="0.8"/>
<circle cx="462.6" cy="623.9" r="1.2" fill="#59b7ab" stroke="#22a090" stroke-width="0.8"/>
<circle cx="555.1" cy="625.2" r="1.8" fill="#53b390" stroke="#1a9a6c" stroke-width="0.8"/>
<circle cx="592.9" cy="627.0" r="1.4" fill="#6fb36f" stroke="#409a40" stroke-width="0.8"/>
<circle cx="521.3" cy="629.1" r="2.2" fill="#b3b3e7" stroke="#9a9ae0" stroke-width="0.8"/>
<circle cx="568.3" cy="626.5" r="1.8" fill="#609ccb" stroke="#2b7bba" stroke-width="0.8"/>
<circle cx="562.1" cy="624.8" r="2.0" fill="#6cc66c" stroke="#3cb43c" stroke-width="0.8"/>
<circle cx="669.6" cy="626.2" r="2.0" fill="#609ccb" stroke="#2b7bba" stroke-width="0.8"/>
<circle cx="629.0" cy="628.5" r="2.0" fill="#f39f6f" stroke="#f08040" stroke-width="0.8"/>
<circle cx="567.7" cy="627.2" r="1.8" fill="#b3b3e7" stroke="#9a9ae0" stroke-width="0.8"/>
<circle cx="546.7" cy="625.6" r="1.6" fill="#b79f7b" stroke="#a08050" stroke-width="0.8"/>
<circle cx="647.4" cy="625.4" r="1.2" fill="#d55d6c" stroke="#c8283c" stroke-width="0.8"/>
<circle cx="482.4" cy="626.3" r="1.4" fill="#b3b3e7" stroke="#9a9ae0" stroke-width="0.8"/>
<circle cx="565.2" cy="624.1" r="1.8" fill="#b3b3e7" stroke="#9a9ae0" stroke-width="0.8"/>
<circle cx="559.0" cy="625.0" r="1.2" fill="#db6f6f" stroke="#d04040" stroke-width="0.8"/>
<circle cx="471.9" cy="625.8" r="1.4" fill="#53a7a7" stroke="#1a8a8a" stroke-width="0.8"/>
<circle cx="613.7" cy="626.9" r="2.2" fill="#6387c3" stroke="#3060b0" stroke-width="0.8"/>
<circle cx="473.7" cy="629.2" r="2.2" fill="#e79c6a" stroke="#e07b39" stroke-width="0.8"/>
<circle cx="603.6" cy="626.6" r="2.0" fill="#6387c3" stroke="#3060b0" stroke-width="0.8"/>
<circle cx="610.2" cy="628.0" r="2.0" fill="#609ccb" stroke="#2b7bba" stroke-width="0.8"/>
<circle cx="639.0" cy="625.2" r="1.4" fill="#b79f7b" stroke="#a08050" stroke-width="0.8"/>
<circle cx="564.1" cy="624.0" r="2.2" fill="#6387c3" stroke="#3060b0" stroke-width="0.8"/>
<circle cx="583.0" cy="628.1" r="1.8" fill="#edb75d" stroke="#e8a028" stroke-width="0.8"/>
<circle cx="562.5" cy="626.0" r="1.4" fill="#6b6bcf" stroke="#3a3ac0" stroke-width="0.8"/>
<circle cx="620.0" cy="628.1" r="1.2" fill="#edb75d" stroke="#e8a028" stroke-width="0.8"/>
<circle cx="486.0" cy="628.4" r="1.6" fill="#59b7ab" stroke="#22a090" stroke-width="0.8"/>
<circle cx="430.8" cy="625.5" r="1.6" fill="#6387c3" stroke="#3060b0" stroke-width="0.8"/>
<circle cx="603.1" cy="625.8" r="1.8" fill="#609ccb" stroke="#2b7bba" stroke-width="0.8"/>
<circle cx="581.7" cy="627.7" r="2.2" fill="#b3b3e7" stroke="#9a9ae0" stroke-width="0.8"/>
<circle cx="468.8" cy="625.0" r="2.2" fill="#9b77c3" stroke="#7a4ab0" stroke-width="0.8"/>
<circle cx="627.2" cy="626.4" r="1.6" fill="#6387c3" stroke="#3060b0" stroke-width="0.8"/>
<circle cx="486.6" cy="626.2" r="2.0" fill="#b79f7b" stroke="#a08050" stroke-width="0.8"/>
<circle cx="663.1" cy="626.3" r="2.0" fill="#b3b3e7" stroke="#9a9ae0" stroke-width="0.8"/>
<circle cx="451.8" cy="626.0" r="2.0" fill="#9b77c3" stroke="#7a4ab0" stroke-width="0.8"/>
<circle cx="627.0" cy="629.0" r="2.2" fill="#db6f6f" stroke="#d04040" stroke-width="0.8"/>
<circle cx="490.4" cy="628.6" r="1.4" fill="#db93c3" stroke="#d070b0" stroke-width="0.8"/>
<circle cx="432.3" cy="628.0" r="1.2" fill="#6b6bcf" stroke="#3a3ac0" stroke-width="0.8"/>
<circle cx="454.5" cy="626.3" r="1.6" fill="#6fb36f" stroke="#409a40" stroke-width="0.8"/>
<circle cx="464.4" cy="629.2" r="2.2" fill="#edb75d" stroke="#e8a028" stroke-width="0.8"/>
<circle cx="635.2" cy="625.1" r="2.0" fill="#e79c6a" stroke="#e07b39" stroke-width="0.8"/>
<circle cx="561.1" cy="625.4" r="1.8" fill="#53b390" stroke="#1a9a6c" stroke-width="0.8"/>
<circle cx="433.2" cy="623.9" r="1.4" fill="#6b6bcf" stroke="#3a3ac0" stroke-width="0.8"/>
<circle cx="551.9" cy="628.3" r="1.2" fill="#609ccb" stroke="#2b7bba" stroke-width="0.8"/>
<circle cx="472.4" cy="624.5" r="2.2" fill="#edb75d" stroke="#e8a028" stroke-width="0.8"/>
<circle cx="636.9" cy="628.7" r="1.8" fill="#edb75d" stroke="#e8a028" stroke-width="0.8"/>
<circle cx="484.1" cy="625.9" r="2.0" fill="#b79f7b" stroke="#a08050" stroke-width="0.8"/>
<circle cx="445.9" cy="625.9" r="1.4" fill="#59b7ab" stroke="#22a090" stroke-width="0.8"/>
<circle cx="479.6" cy="627.3" r="1.6" fill="#db93c3" stroke="#d070b0" stroke-width="0.8"/>
<circle cx="509.5" cy="622.9" r="1.6" fill="#53b390" stroke="#1a9a6c" stroke-width="0.8"/>
<circle cx="510.5" cy="627.1" r="1.8" fill="#9b77c3" stroke="#7a4ab0" stroke-width="0.8"/>
<circle cx="483.4" cy="626.4" r="2.0" fill="#59b7ab" stroke="#22a090" stroke-width="0.8"/>
<circle cx="584.1" cy="629.5" r="2.2" fill="#6cc66c" stroke="#3cb43c" stroke-width="0.8"/>
<circle cx="494.9" cy="626.1" r="1.6" fill="#b3b3e7" stroke="#9a9ae0" stroke-width="0.8"/>
<circle cx="568.7" cy="628.1" r="2.0" fill="#6cc66c" stroke="#3cb43c" stroke-width="0.8"/>
<circle cx="674.1" cy="628.3" r="1.2" fill="#d55d6c" stroke="#c8283c" stroke-width="0.8"/>
<circle cx="619.8" cy="626.8" r="2.2" fill="#6387c3" stroke="#3060b0" stroke-width="0.8"/>
<circle cx="517.4" cy="625.9" r="1.4" fill="#609ccb" stroke="#2b7bba" stroke-width="0.8"/>
<circle cx="502.7" cy="629.0" r="1.6" fill="#b3b3e7" stroke="#9a9ae0" stroke-width="0.8"/>
<circle cx="553.7" cy="625.5" r="2.0" fill="#edb75d" stroke="#e8a028" stroke-width="0.8"/>
<circle cx="510.3" cy="625.4" r="2.2" fill="#9b77c3" stroke="#7a4ab0" stroke-width="0.8"/>
<circle cx="594.3" cy="628.4" r="2.0" fill="#b3b3e7" stroke="#9a9ae0" stroke-width="0.8"/>
<circle cx="649.7" cy="624.7" r="1.4" fill="#b3b3e7" stroke="#9a9ae0" stroke-width="0.8"/>
<circle cx="464.6" cy="627.3" r="2.2" fill="#db93c3" stroke="#d070b0" stroke-width="0.8"/>
<circle cx="527.8" cy="629.4" r="1.8" fill="#f39f6f" stroke="#f08040" stroke-width="0.8"/>
<circle cx="658.4" cy="625.7" r="2.2" fill="#f39f6f" stroke="#f08040" stroke-width="0.8"/>
<circle cx="489.8" cy="626.0" r="2.0" fill="#53a7a7" stroke="#1a8a8a" stroke-width="0.8"/>
<circle cx="591.1" cy="627.0" r="1.4" fill="#609ccb" stroke="#2b7bba" stroke-width="0.8"/>
<circle cx="572.6" cy="626.3" r="1.6" fill="#b3b3e7" stroke="#9a9ae0" stroke-width="0.8"/>
<circle cx="672.9" cy="624.8" r="1.8" fill="#609ccb" stroke="#2b7bba" stroke-width="0.8"/>
<circle cx="635.8" cy="628.4" r="1.6" fill="#6fb36f" stroke="#409a40" stroke-width="0.8"/>
<circle cx="495.7" cy="626.4" r="1.4" fill="#e79c6a" stroke="#e07b39" stroke-width="0.8"/>
<circle cx="486.0" cy="626.7" r="1.2" fill="#d55d6c" stroke="#c8283c" stroke-width="0.8"/>
<circle cx="438.9" cy="623.4" r="1.6" fill="#b79f7b" stroke="#a08050" stroke-width="0.8"/>
<circle cx="588.4" cy="627.4" r="1.4" fill="#db6f6f" stroke="#d04040" stroke-width="0.8"/>
<circle cx="609.7" cy="628.4" r="1.2" fill="#609ccb" stroke="#2b7bba" stroke-width="0.8"/>
<circle cx="628.6" cy="625.9" r="2.0" fill="#9b77c3" stroke="#7a4ab0" stroke-width="0.8"/>
<circle cx="606.0" cy="627.6" r="2.2" fill="#53b390" stroke="#1a9a6c" stroke-width="0.8"/>
<circle cx="586.3" cy="626.4" r="1.2" fill="#d55d6c" stroke="#c8283c" stroke-width="0.8"/>
<circle cx="507.1" cy="626.6" r="1.8" fill="#edb75d" stroke="#e8a028" stroke-width="0.8"/>
<circle cx="578.8" cy="626.1" r="1.6" fill="#6fb36f" stroke="#409a40" stroke-width="0.8"/>
<circle cx="441.3" cy="626.0" r="2.2" fill="#9b77c3" stroke="#7a4ab0" stroke-width="0.8"/>
<circle cx="620.2" cy="626.6" r="2.0" fill="#edb75d" stroke="#e8a028" stroke-width="0.8"/>
<circle cx="491.0" cy="626.2" r="1.6" fill="#9b77c3" stroke="#7a4ab0" stroke-width="0.8"/>
<circle cx="440.9" cy="626.5" r="2.0" fill="#9b77c3" stroke="#7a4ab0" stroke-width="0.8"/>
<circle cx="466.0" cy="627.4" r="2.0" fill="#609ccb" stroke="#2b7bba" stroke-width="0.8"/>
<circle cx="516.1" cy="626.5" r="1.6" fill="#8799ab" stroke="#607890" stroke-width="0.8"/>
<circle cx="512.7" cy="625.1" r="1.4" fill="#9b77c3" stroke="#7a4ab0" stroke-width="0.8"/>
<circle cx="484.3" cy="623.7" r="2.0" fill="#e79c6a" stroke="#e07b39" stroke-width="0.8"/>
<circle cx="629.6" cy="626.0" r="2.2" fill="#f39f6f" stroke="#f08040" stroke-width="0.8"/>
<circle cx="589.3" cy="626.5" r="2.0" fill="#db93c3" stroke="#d070b0" stroke-width="0.8"/>
<circle cx="566.3" cy="625.2" r="1.6" fill="#6cc66c" stroke="#3cb43c" stroke-width="0.8"/>
<circle cx="490.0" cy="627.8" r="2.0" fill="#6b6bcf" stroke="#3a3ac0" stroke-width="0.8"/>
<circle cx="451.8" cy="627.9" r="1.4" fill="#db6f6f" stroke="#d04040" stroke-width="0.8"/>
<circle cx="526.8" cy="622.8" r="1.2" fill="#53b390" stroke="#1a9a6c" stroke-width="0.8"/>
<circle cx="582.5" cy="627.8" r="1.4" fill="#53a7a7" stroke="#1a8a8a" stroke-width="0.8"/>
<circle cx="620.6" cy="627.7" r="1.6" fill="#b3b3e7" stroke="#9a9ae0" stroke-width="0.8"/>
<circle cx="610.7" cy="628.9" r="1.4" fill="#b79f7b" stroke="#a08050" stroke-width="0.8"/>
<circle cx="434.2" cy="624.7" r="2.2" fill="#db6f6f" stroke="#d04040" stroke-width="0.8"/>
<circle cx="536.9" cy="627.1" r="1.6" fill="#edb75d" stroke="#e8a028" stroke-width="0.8"/>
<circle cx="541.6" cy="625.6" r="1.6" fill="#53b390" stroke="#1a9a6c" stroke-width="0.8"/>
<circle cx="453.8" cy="626.3" r="2.2" fill="#edb75d" stroke="#e8a028" stroke-width="0.8"/>
<circle cx="594.9" cy="625.9" r="1.6" fill="#59b7ab" stroke="#22a090" stroke-width="0.8"/>
<circle cx="483.8" cy="624.1" r="1.8" fill="#db6f6f" stroke="#d04040" stroke-width="0.8"/>
<circle cx="434.6" cy="628.7" r="1.2" fill="#e79c6a" stroke="#e07b39" stroke-width="0.8"/>
<circle cx="603.6" cy="626.5" r="1.6" fill="#8799ab" stroke="#607890" stroke-width="0.8"/>
<circle cx="587.0" cy="627.8" r="1.6" fill="#6b6bcf" stroke="#3a3ac0" stroke-width="0.8"/>
<circle cx="480.9" cy="625.6" r="1.6" fill="#6cc66c" stroke="#3cb43c" stroke-width="0.8"/>
<circle cx="631.9" cy="626.0" r="1.6" fill="#609ccb" stroke="#2b7bba" stroke-width="0.8"/>
<circle cx="509.6" cy="623.3" r="1.4" fill="#9b77c3" stroke="#7a4ab0" stroke-width="0.8"/>
<circle cx="597.0" cy="626.7" r="2.0" fill="#db93c3" stroke="#d070b0" stroke-width="0.8"/>
<circle cx="479.8" cy="628.9" r="2.2" fill="#b3b3e7" stroke="#9a9ae0" stroke-width="0.8"/>
<circle cx="438.5" cy="627.2" r="1.8" fill="#6fb36f" stroke="#409a40" stroke-width="0.8"/>
<circle cx="535.3" cy="628.6" r="2.2" fill="#53b390" stroke="#1a9a6c" stroke-width="0.8"/>
<circle cx="627.5" cy="629.1" r="1.4" fill="#53b390" stroke="#1a9a6c" stroke-width="0.8"/>
<circle cx="460.2" cy="625.8" r="1.6" fill="#6387c3" stroke="#3060b0" stroke-width="0.8"/>
<circle cx="614.1" cy="628.1" r="1.8" fill="#edb75d" stroke="#e8a028" stroke-width="0.8"/>
<circle cx="449.5" cy="624.6" r="2.2" fill="#edb75d" stroke="#e8a028" stroke-width="0.8"/>
<circle cx="646.6" cy="629.2" r="1.2" fill="#db6f6f" stroke="#d04040" stroke-width="0.8"/>
<circle cx="477.1" cy="626.2" r="1.4" fill="#b79f7b" stroke="#a08050" stroke-width="0.8"/>
<circle cx="575.2" cy="626.2" r="2.0" fill="#8799ab" stroke="#607890" stroke-width="0.8"/>
<circle cx="600.9" cy="626.3" r="1.6" fill="#609ccb" stroke="#2b7bba" stroke-width="0.8"/>
<circle cx="645.8" cy="625.9" r="1.2" fill="#6b6bcf" stroke="#3a3ac0" stroke-width="0.8"/>
<circle cx="668.7" cy="626.3" r="1.4" fill="#53a7a7" stroke="#1a8a8a" stroke-width="0.8"/>
<circle cx="463.8" cy="626.4" r="2.2" fill="#53a7a7" stroke="#1a8a8a" stroke-width="0.8"/>
<circle cx="551.7" cy="627.5" r="1.8" fill="#609ccb" stroke="#2b7bba" stroke-width="0.8"/>
<circle cx="514.0" cy="627.3" r="1.4" fill="#db6f6f" stroke="#d04040" stroke-width="0.8"/>
<circle cx="609.1" cy="626.3" r="1.6" fill="#e79c6a" stroke="#e07b39" stroke-width="0.8"/>
<circle cx="444.2" cy="627.3" r="1.2" fill="#d55d6c" stroke="#c8283c" stroke-width="0.8"/>
<circle cx="553.7" cy="624.8" r="1.6" fill="#e79c6a" stroke="#e07b39" stroke-width="0.8"/>
<circle cx="429.6" cy="627.4" r="2.2" fill="#59b7ab" stroke="#22a090" stroke-width="0.8"/>
<circle cx="589.6" cy="624.6" r="2.2" fill="#8799ab" stroke="#607890" stroke-width="0.8"/>
<circle cx="671.6" cy="625.9" r="2.2" fill="#e79c6a" stroke="#e07b39" stroke-width="0.8"/>
<circle cx="526.4" cy="625.7" r="1.4" fill="#edb75d" stroke="#e8a028" stroke-width="0.8"/>
<circle cx="616.5" cy="627.8" r="1.8" fill="#6cc66c" stroke="#3cb43c" stroke-width="0.8"/>
<circle cx="650.6" cy="625.7" r="2.0" fill="#e79c6a" stroke="#e07b39" stroke-width="0.8"/>
<circle cx="599.7" cy="625.6" r="2.2" fill="#edb75d" stroke="#e8a028" stroke-width="0.8"/>
<circle cx="673.8" cy="627.4" r="1.2" fill="#59b7ab" stroke="#22a090" stroke-width="0.8"/>
<circle cx="653.2" cy="624.4" r="1.2" fill="#edb75d" stroke="#e8a028" stroke-width="0.8"/>
<circle cx="599.9" cy="625.4" r="2.0" fill="#9b77c3" stroke="#7a4ab0" stroke-width="0.8"/>
<circle cx="540.4" cy="628.3" r="2.0" fill="#53b390" stroke="#1a9a6c" stroke-width="0.8"/>
<circle cx="544.9" cy="625.4" r="1.6" fill="#53a7a7" stroke="#1a8a8a" stroke-width="0.8"/>
<circle cx="674.7" cy="625.0" r="1.4" fill="#edb75d" stroke="#e8a028" stroke-width="0.8"/>
<circle cx="515.4" cy="630.0" r="1.6" fill="#9b77c3" stroke="#7a4ab0" stroke-width="0.8"/>
<circle cx="444.9" cy="628.0" r="2.0" fill="#db6f6f" stroke="#d04040" stroke-width="0.8"/>
<circle cx="657.1" cy="626.5" r="1.8" fill="#b3b3e7" stroke="#9a9ae0" stroke-width="0.8"/>
<circle cx="557.0" cy="625.2" r="1.8" fill="#db6f6f" stroke="#d04040" stroke-width="0.8"/>
<circle cx="675.9" cy="628.7" r="1.6" fill="#b79f7b" stroke="#a08050" stroke-width="0.8"/>
<circle cx="478.0" cy="627.4" r="1.4" fill="#b3b3e7" stroke="#9a9ae0" stroke-width="0.8"/>
<circle cx="486.4" cy="627.7" r="1.8" fill="#6fb36f" stroke="#409a40" stroke-width="0.8"/>
<circle cx="586.5" cy="628.9" r="2.2" fill="#59b7ab" stroke="#22a090" stroke-width="0.8"/>
<circle cx="507.2" cy="624.5" r="1.8" fill="#6387c3" stroke="#3060b0" stroke-width="0.8"/>
<circle cx="529.1" cy="628.7" r="2.2" fill="#e79c6a" stroke="#e07b39" stroke-width="0.8"/>
<circle cx="520.4" cy="624.9" r="2.0" fill="#b79f7b" stroke="#a08050" stroke-width="0.8"/>
<circle cx="502.3" cy="628.1" r="2.2" fill="#609ccb" stroke="#2b7bba" stroke-width="0.8"/>
<circle cx="495.5" cy="626.0" r="1.2" fill="#db93c3" stroke="#d070b0" stroke-width="0.8"/>
<circle cx="585.0" cy="628.0" r="2.2" fill="#6fb36f" stroke="#409a40" stroke-width="0.8"/>
<circle cx="615.9" cy="627.7" r="1.6" fill="#6b6bcf" stroke="#3a3ac0" stroke-width="0.8"/>
<circle cx="556.7" cy="628.2" r="1.4" fill="#b3b3e7" stroke="#9a9ae0" stroke-width="0.8"/>
<circle cx="557.3" cy="626.8" r="2.0" fill="#d55d6c" stroke="#c8283c" stroke-width="0.8"/>
<circle cx="427.2" cy="625.3" r="1.6" fill="#59b7ab" stroke="#22a090" stroke-width="0.8"/>
<circle cx="574.1" cy="625.7" r="1.6" fill="#e79c6a" stroke="#e07b39" stroke-width="0.8"/>
<circle cx="487.2" cy="628.2" r="1.8" fill="#609ccb" stroke="#2b7bba" stroke-width="0.8"/>
<circle cx="557.8" cy="625.8" r="1.4" fill="#8799ab" stroke="#607890" stroke-width="0.8"/>
<circle cx="665.6" cy="626.4" r="1.6" fill="#b3b3e7" stroke="#9a9ae0" stroke-width="0.8"/>
<circle cx="656.2" cy="626.1" r="1.2" fill="#f39f6f" stroke="#f08040" stroke-width="0.8"/>
<circle cx="668.5" cy="625.0" r="1.8" fill="#e79c6a" stroke="#e07b39" stroke-width="0.8"/>
<circle cx="514.7" cy="624.9" r="2.0" fill="#d55d6c" stroke="#c8283c" stroke-width="0.8"/>
<circle cx="670.4" cy="627.7" r="2.2" fill="#b3b3e7" stroke="#9a9ae0" stroke-width="0.8"/>
<circle cx="442.8" cy="627.3" r="1.2" fill="#db93c3" stroke="#d070b0" stroke-width="0.8"/>
<circle cx="521.5" cy="629.2" r="2.0" fill="#8799ab" stroke="#607890" stroke-width="0.8"/>
<circle cx="550.7" cy="628.5" r="1.2" fill="#6387c3" stroke="#3060b0" stroke-width="0.8"/>
<circle cx="574.6" cy="624.9" r="1.8" fill="#db93c3" stroke="#d070b0" stroke-width="0.8"/>
<circle cx="601.5" cy="622.8" r="1.4" fill="#609ccb" stroke="#2b7bba" stroke-width="0.8"/>
<circle cx="536.5" cy="628.3" r="1.8" fill="#6cc66c" stroke="#3cb43c" stroke-width="0.8"/>
<circle cx="554.4" cy="627.4" r="2.2" fill="#d55d6c" stroke="#c8283c" stroke-width="0.8"/>
<circle cx="527.0" cy="624.4" r="1.2" fill="#f39f6f" stroke="#f08040" stroke-width="0.8"/>
<circle cx="564.9" cy="626.7" r="1.2" fill="#609ccb" stroke="#2b7bba" stroke-width="0.8"/>
<circle cx="482.0" cy="623.8" r="1.2" fill="#53b390" stroke="#1a9a6c" stroke-width="0.8"/>
<circle cx="452.3" cy="628.5" r="2.0" fill="#db93c3" stroke="#d070b0" stroke-width="0.8"/>
<circle cx="440.7" cy="627.7" r="2.2" fill="#d55d6c" stroke="#c8283c" stroke-width="0.8"/>
<circle cx="604.1" cy="625.9" r="2.2" fill="#8799ab" stroke="#607890" stroke-width="0.8"/>
<circle cx="637.1" cy="626.5" r="1.4" fill="#8799ab" stroke="#607890" stroke-width="0.8"/>
<circle cx="630.4" cy="627.0" r="1.6" fill="#d55d6c" stroke="#c8283c" stroke-width="0.8"/>
<circle cx="556.0" cy="625.8" r="1.2" fill="#6fb36f" stroke="#409a40" stroke-width="0.8"/>
<circle cx="673.2" cy="626.2" r="1.6" fill="#edb75d" stroke="#e8a028" stroke-width="0.8"/>
<circle cx="490.5" cy="627.6" r="1.6" fill="#53a7a7" stroke="#1a8a8a" stroke-width="0.8"/>
<circle cx="525.3" cy="628.1" r="1.6" fill="#f39f6f" stroke="#f08040" stroke-width="0.8"/>
<circle cx="488.9" cy="624.9" r="1.8" fill="#8799ab" stroke="#607890" stroke-width="0.8"/>
<circle cx="640.3" cy="626.4" r="1.2" fill="#d55d6c" stroke="#c8283c" stroke-width="0.8"/>
<circle cx="560.7" cy="627.4" r="1.6" fill="#db93c3" stroke="#d070b0" stroke-width="0.8"/>
<circle cx="590.4" cy="626.2" r="1.6" fill="#d55d6c" stroke="#c8283c" stroke-width="0.8"/>
<circle cx="540.7" cy="625.6" r="2.2" fill="#53a7a7" stroke="#1a8a8a" stroke-width="0.8"/>
<circle cx="592.3" cy="626.4" r="1.2" fill="#8799ab" stroke="#607890" stroke-width="0.8"/>
<circle cx="663.9" cy="626.2" r="1.6" fill="#59b7ab" stroke="#22a090" stroke-width="0.8"/>
<circle cx="495.1" cy="626.8" r="2.2" fill="#d55d6c" stroke="#c8283c" stroke-width="0.8"/>
<circle cx="626.8" cy="625.2" r="2.0" fill="#db93c3" stroke="#d070b0" stroke-width="0.8"/>
<circle cx="528.1" cy="626.3" r="1.4" fill="#59b7ab" stroke="#22a090" stroke-width="0.8"/>
<circle cx="471.9" cy="625.4" r="2.2" fill="#6387c3" stroke="#3060b0" stroke-width="0.8"/>
<circle cx="439.2" cy="626.8" r="2.0" fill="#6b6bcf" stroke="#3a3ac0" stroke-width="0.8"/>
<circle cx="471.9" cy="626.0" r="2.2" fill="#53a7a7" stroke="#1a8a8a" stroke-width="0.8"/>
<circle cx="610.6" cy="626.9" r="2.2" fill="#f39f6f" stroke="#f08040" stroke-width="0.8"/>
<circle cx="626.7" cy="627.3" r="2.0" fill="#6fb36f" stroke="#409a40" stroke-width="0.8"/>
<circle cx="463.3" cy="627.3" r="1.2" fill="#db93c3" stroke="#d070b0" stroke-width="0.8"/>
<circle cx="450.7" cy="625.9" r="1.2" fill="#59b7ab" stroke="#22a090" stroke-width="0.8"/>
<circle cx="530.3" cy="625.8" r="1.8" fill="#8799ab" stroke="#607890" stroke-width="0.8"/>
<circle cx="465.6" cy="625.4" r="1.2" fill="#6cc66c" stroke="#3cb43c" stroke-width="0.8"/>
<circle cx="437.4" cy="627.0" r="1.4" fill="#9b77c3" stroke="#7a4ab0" stroke-width="0.8"/>
<circle cx="603.0" cy="625.3" r="2.2" fill="#6cc66c" stroke="#3cb43c" stroke-width="0.8"/>
<circle cx="504.1" cy="626.3" r="1.4" fill="#6cc66c" stroke="#3cb43c" stroke-width="0.8"/>
<circle cx="662.4" cy="628.3" r="2.2" fill="#db6f6f" stroke="#d04040" stroke-width="0.8"/>
<circle cx="428.7" cy="618.3" r="2.0" fill="#efbd9c" fill-opacity="1.0" stroke="#e07b39" stroke-width="1.0"/>
<circle cx="449.7" cy="617.3" r="2.5" fill="#90cfc7" fill-opacity="1.0" stroke="#22a090" stroke-width="1.0"/>
<circle cx="480.8" cy="618.8" r="1.8" fill="#e7b7d7" fill-opacity="1.0" stroke="#d070b0" stroke-width="1.0"/>
<circle cx="442.0" cy="621.4" r="2.5" fill="#efbd9c" fill-opacity="1.0" stroke="#e07b39" stroke-width="1.0"/>
<circle cx="464.0" cy="620.9" r="2.0" fill="#efbd9c" fill-opacity="1.0" stroke="#e07b39" stroke-width="1.0"/>
<circle cx="474.2" cy="621.9" r="2.5" fill="#efbd9c" fill-opacity="1.0" stroke="#e07b39" stroke-width="1.0"/>
<circle cx="470.1" cy="620.3" r="2.0" fill="#90cfc7" fill-opacity="1.0" stroke="#22a090" stroke-width="1.0"/>
<circle cx="489.6" cy="619.3" r="2.8" fill="#9dd99d" fill-opacity="1.0" stroke="#3cb43c" stroke-width="1.0"/>
<circle cx="498.3" cy="619.3" r="2.5" fill="#8cc4ac" fill-opacity="1.0" stroke="#1a8a5a" stroke-width="1.0"/>
<circle cx="495.0" cy="621.0" r="2.0" fill="#e3939d" fill-opacity="1.0" stroke="#c8283c" stroke-width="1.0"/>
<circle cx="503.9" cy="622.4" r="2.2" fill="#9dd99d" fill-opacity="1.0" stroke="#3cb43c" stroke-width="1.0"/>
<circle cx="522.3" cy="621.9" r="2.2" fill="#9dd99d" fill-opacity="1.0" stroke="#3cb43c" stroke-width="1.0"/>
<circle cx="540.2" cy="617.3" r="2.3" fill="#f3df9f" fill-opacity="1.0" stroke="#e8c040" stroke-width="1.0"/>
<circle cx="548.4" cy="619.3" r="2.2" fill="#e3939d" fill-opacity="1.0" stroke="#c8283c" stroke-width="1.0"/>
<circle cx="553.0" cy="621.4" r="2.3" fill="#ccccef" fill-opacity="1.0" stroke="#9a9ae0" stroke-width="1.0"/>
<circle cx="578.1" cy="617.8" r="2.0" fill="#ccccef" fill-opacity="1.0" stroke="#9a9ae0" stroke-width="1.0"/>
<circle cx="582.7" cy="619.3" r="2.2" fill="#ccccef" fill-opacity="1.0" stroke="#9a9ae0" stroke-width="1.0"/>
<circle cx="560.7" cy="620.9" r="3.0" fill="#95bddc" fill-opacity="1.0" stroke="#2b7bba" stroke-width="1.0"/>
<circle cx="588.8" cy="622.4" r="2.0" fill="#e3939d" fill-opacity="1.0" stroke="#c8283c" stroke-width="1.0"/>
<circle cx="614.8" cy="621.4" r="3.0" fill="#90cfc7" fill-opacity="1.0" stroke="#22a090" stroke-width="1.0"/>
<circle cx="603.1" cy="619.3" r="2.0" fill="#f3df9f" fill-opacity="1.0" stroke="#e8c040" stroke-width="1.0"/>
<circle cx="662.5" cy="616.8" r="3.0" fill="#9dd99d" fill-opacity="1.0" stroke="#3cb43c" stroke-width="1.0"/>
<circle cx="624.7" cy="620.9" r="2.0" fill="#efbd9c" fill-opacity="1.0" stroke="#e07b39" stroke-width="1.0"/>
<circle cx="631.4" cy="619.3" r="2.0" fill="#f3df9f" fill-opacity="1.0" stroke="#e8c040" stroke-width="1.0"/>
<circle cx="638.5" cy="619.8" r="2.5" fill="#e79f9f" fill-opacity="1.0" stroke="#d04040" stroke-width="1.0"/>
<circle cx="637.5" cy="622.4" r="2.0" fill="#e3939d" fill-opacity="1.0" stroke="#c8283c" stroke-width="1.0"/>
<circle cx="670.2" cy="619.8" r="2.5" fill="#9dd99d" fill-opacity="1.0" stroke="#3cb43c" stroke-width="1.0"/>
<circle cx="665.1" cy="621.9" r="2.0" fill="#e79faf" fill-opacity="1.0" stroke="#d04060" stroke-width="1.0"/>
<circle cx="643.1" cy="622.4" r="2.0" fill="#9dd99d" fill-opacity="1.0" stroke="#3cb43c" stroke-width="1.0"/>
<circle cx="518.2" cy="619.3" r="1.8" fill="#2a2ab0"/>
<circle cx="673.2" cy="622.4" r="1.8" fill="#2a3ab0"/>
<circle cx="647.1" cy="432.4" r="3.0" fill="#c3e1f4" fill-opacity="1.0" stroke="#6ab4e4" stroke-width="1.0"/>
<text stroke="#6ab4e4" stroke-width="0.22" x="638.0" y="427.6" font-size="7.5" fill="#6ab4e4">TP53</text>
<circle cx="430.7" cy="475.8" r="5.0" fill="#b1b1e7" fill-opacity="1.0" stroke="#3c3cc4" stroke-width="1.3"/>
<text stroke="#3c3cc4" stroke-width="0.22" x="419.7" y="469.2" font-size="7.7" fill="#3c3cc4">ACVR2A</text>
<circle cx="595.4" cy="517.8" r="4.1" fill="#b1b1e7" fill-opacity="1.0" stroke="#3c3cc4" stroke-width="1.3"/>
<text stroke="#3c3cc4" stroke-width="0.22" x="585.8" y="511.0" font-size="7.7" fill="#3c3cc4">PTEN</text>
<text stroke="#44c444" stroke-width="0.22" x="570.5" y="558.8" font-size="7.5" fill="#44c444">PIK3CA</text>
<circle cx="583.8" cy="564.4" r="4.4" fill="#bdeabd" fill-opacity="1.0" stroke="#44c444" stroke-width="1.2"/>
<text stroke="#b47cb0" stroke-width="0.22" x="531.1" y="609.8" font-size="7.5" fill="#b47cb0">KRAS</text>
<text stroke="#3a88c8" stroke-width="0.22" transform="translate(465.9,609.0) rotate(-90)" font-size="7.6" fill="#3a88c8">CCDC73</text>
<text stroke="#22a080" stroke-width="0.22" transform="translate(474.7,604.6) rotate(-90)" font-size="7.6" fill="#22a080">CHRM3</text>
<text stroke="#e07838" stroke-width="0.22" transform="translate(499.5,608.3) rotate(-90)" font-size="7.6" fill="#e07838">ERBB2</text>
<text stroke="#f5d890" stroke-width="0.22" transform="translate(515.2,609.2) rotate(-90)" font-size="7.6" fill="#f5d890">GPR39</text>
<text stroke="#44c444" stroke-width="0.22" transform="translate(523.4,609.7) rotate(-90)" font-size="7.6" fill="#44c444">GPR85</text>
<text stroke="#e0a828" stroke-width="0.22" transform="translate(567.2,605.3) rotate(-90)" font-size="7.6" fill="#e0a828">NCAM2</text>
<text stroke="#d87838" stroke-width="0.22" transform="translate(608.8,605.8) rotate(-90)" font-size="7.6" fill="#d87838">RNF145</text>
<text stroke="#44c444" stroke-width="0.22" transform="translate(620.8,610.5) rotate(-90)" font-size="7.6" fill="#44c444">SLAMF9</text>
<text stroke="#f3e098" stroke-width="0.22" transform="translate(648.8,610.5) rotate(-90)" font-size="7.6" fill="#f3e098">TRAPPC2L</text>
<text stroke="#e0a828" stroke-width="0.22" transform="translate(665.4,608.9) rotate(-90)" font-size="7.6" fill="#e0a828">ZBTB1</text>
<text stroke="#22a090" stroke-width="0.22" transform="translate(675.7,607.9) rotate(-90)" font-size="7.6" fill="#22a090">ZNF83</text>
<circle cx="464" cy="614.2" r="2.5" fill="#c7ddef" fill-opacity="1.0" stroke="#3a88c8" stroke-width="1.1"/>
<circle cx="472.5" cy="609.9" r="2.5" fill="#c1e4db" fill-opacity="1.0" stroke="#22a080" stroke-width="1.1"/>
<circle cx="497.6" cy="614.2" r="3.5" fill="#f6d9c7" fill-opacity="1.0" stroke="#e07838" stroke-width="1.1"/>
<circle cx="518.2" cy="614.0" r="2.5" fill="#caeeca" fill-opacity="1.0" stroke="#44c444" stroke-width="1.1"/>
<circle cx="541.9" cy="613.2" r="1.5" fill="#efd9eb" fill-opacity="1.0" stroke="#c878b8" stroke-width="1.1"/>
<circle cx="565.3" cy="609.6" r="2.5" fill="#f6e6c2" fill-opacity="1.0" stroke="#e0a828" stroke-width="1.1"/>
<circle cx="605.9" cy="610.1" r="2.5" fill="#f4d9c7" fill-opacity="1.0" stroke="#d87838" stroke-width="1.1"/>
<circle cx="606.6" cy="616.4" r="3.5" fill="#c9c9ed" fill-opacity="1.0" stroke="#4040c0" stroke-width="1.1"/>
<circle cx="618.9" cy="615.4" r="1.8" fill="#caeeca" fill-opacity="1.0" stroke="#44c444" stroke-width="1.1"/>
<circle cx="663.1" cy="613.5" r="2.5" fill="#f6e6c2" fill-opacity="1.0" stroke="#e0a828" stroke-width="1.1"/>
<circle cx="673.3" cy="613.1" r="2.0" fill="#c1e4df" fill-opacity="1.0" stroke="#22a090" stroke-width="1.1"/>
<circle cx="648.2" cy="616.2" r="1.7" fill="#f3e098"/>
<rect x="417.7" y="398.8" width="266.7" height="238.2" fill="none" stroke="#111" stroke-width="1.4"/>
</svg>
</body></html>
